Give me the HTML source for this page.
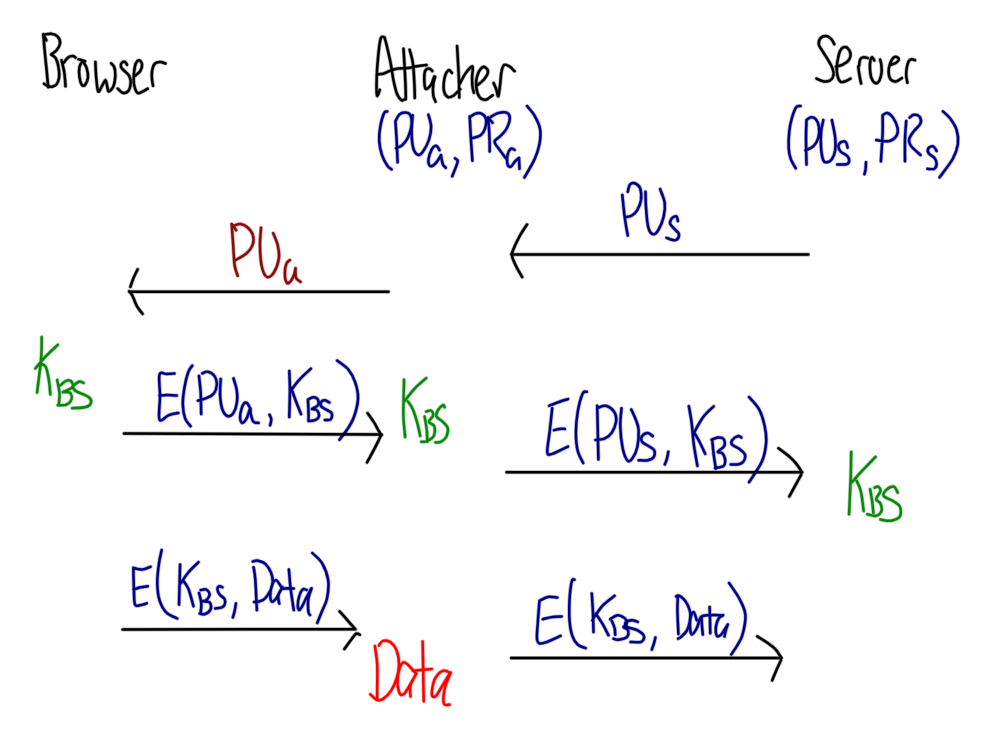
<!DOCTYPE html>
<html><head><meta charset="utf-8"><style>
html,body{margin:0;padding:0;background:#fff;width:988px;height:740px;overflow:hidden;font-family:"Liberation Sans",sans-serif}
svg{display:block}
</style></head><body>
<svg width="988" height="740" viewBox="0 0 988 740">
<rect width="988" height="740" fill="#fff"/>
<g fill="none" stroke-linecap="round" stroke-linejoin="round">
<path stroke="#000000" stroke-width="4.0" stroke-opacity="0.35" d="M43.3 34.3C43.5 36.7 44.0 43.3 44.5 48.9C45.0 54.5 45.7 61.5 46.4 67.8C47.0 74.2 47.9 84.0 48.2 87.2M44.0 83.7L48.7 86.8M43.3 34.3L46.4 40.4M44.0 34.7C45.2 34.6 48.8 33.5 51.1 33.8C53.4 34.1 56.2 35.0 57.7 36.6C59.2 38.2 60.2 41.0 60.1 43.2C59.9 45.5 58.3 48.0 56.8 49.9C55.3 51.8 52.0 53.8 51.1 54.6M51.1 54.6C51.9 55.2 54.5 56.2 55.8 58.4C57.1 60.6 58.1 64.7 58.6 67.8C59.2 71.0 59.4 74.6 59.1 77.3C58.8 80.0 57.9 82.3 56.8 83.9C55.6 85.5 53.5 86.4 52.0 86.8C50.5 87.1 48.5 86.1 47.8 86.0M61.5 60.3C62.0 62.3 63.7 68.2 64.3 72.6C65.0 76.9 65.3 84.0 65.5 86.3M63.4 63.1C64.2 62.2 66.5 58.6 68.1 57.4C69.7 56.2 71.6 56.0 72.8 56.0C74.1 56.0 75.2 57.4 75.7 57.6M78.5 59.3L85.1 61.2M82.8 60.7C82.2 61.8 80.0 64.1 79.5 66.9C78.9 69.7 79.1 74.3 79.5 77.3C79.9 80.3 80.9 83.6 81.8 84.9C82.8 86.1 84.1 86.1 85.1 84.9C86.2 83.6 87.7 80.1 88.0 77.3C88.2 74.5 87.4 70.5 86.6 67.8C85.7 65.2 83.4 62.3 82.8 61.2"/>
<path stroke="#000000" stroke-width="2.5" d="M43.3 34.3C43.5 36.7 44.0 43.3 44.5 48.9C45.0 54.5 45.7 61.5 46.4 67.8C47.0 74.2 47.9 84.0 48.2 87.2M44.0 83.7L48.7 86.8M43.3 34.3L46.4 40.4M44.0 34.7C45.2 34.6 48.8 33.5 51.1 33.8C53.4 34.1 56.2 35.0 57.7 36.6C59.2 38.2 60.2 41.0 60.1 43.2C59.9 45.5 58.3 48.0 56.8 49.9C55.3 51.8 52.0 53.8 51.1 54.6M51.1 54.6C51.9 55.2 54.5 56.2 55.8 58.4C57.1 60.6 58.1 64.7 58.6 67.8C59.2 71.0 59.4 74.6 59.1 77.3C58.8 80.0 57.9 82.3 56.8 83.9C55.6 85.5 53.5 86.4 52.0 86.8C50.5 87.1 48.5 86.1 47.8 86.0M61.5 60.3C62.0 62.3 63.7 68.2 64.3 72.6C65.0 76.9 65.3 84.0 65.5 86.3M63.4 63.1C64.2 62.2 66.5 58.6 68.1 57.4C69.7 56.2 71.6 56.0 72.8 56.0C74.1 56.0 75.2 57.4 75.7 57.6M78.5 59.3L85.1 61.2M82.8 60.7C82.2 61.8 80.0 64.1 79.5 66.9C78.9 69.7 79.1 74.3 79.5 77.3C79.9 80.3 80.9 83.6 81.8 84.9C82.8 86.1 84.1 86.1 85.1 84.9C86.2 83.6 87.7 80.1 88.0 77.3C88.2 74.5 87.4 70.5 86.6 67.8C85.7 65.2 83.4 62.3 82.8 61.2"/>
<path stroke="#000000" stroke-width="4.0" stroke-opacity="0.35" d="M95.4 61.9C95.5 64.5 95.7 72.4 96.2 77.3C96.7 82.2 97.2 90.1 98.2 91.5C99.3 92.8 101.1 87.3 102.3 85.4C103.5 83.5 104.7 80.0 105.5 80.1C106.4 80.3 106.6 84.3 107.2 86.2C107.7 88.1 107.7 91.6 108.8 91.5C109.9 91.4 112.6 88.6 113.6 85.8C114.7 83.0 115.2 78.0 115.3 74.9C115.4 71.8 115.0 69.1 114.3 67.2C113.6 65.2 111.7 64.0 111.2 63.4M127.0 64.7C126.7 64.3 125.9 62.2 125.0 61.9C124.1 61.6 122.4 61.9 121.8 62.7C121.1 63.5 120.5 65.4 120.9 66.8C121.4 68.1 122.8 69.3 124.2 70.8C125.5 72.3 128.0 73.6 129.1 75.7C130.1 77.7 130.8 80.4 130.7 83.0C130.5 85.5 129.6 89.5 128.2 91.1C126.9 92.7 124.3 93.1 122.6 92.7C120.8 92.3 118.5 89.3 117.7 88.6M135.1 75.7C136.0 74.9 139.3 72.7 140.4 70.8C141.6 68.9 142.2 66.1 142.0 64.3C141.8 62.6 140.3 60.3 139.2 60.3C138.1 60.3 136.4 62.0 135.5 64.3C134.7 66.6 134.2 70.8 133.9 74.1C133.6 77.3 133.4 80.7 133.9 83.8C134.5 86.9 135.8 91.4 137.2 92.7C138.5 94.1 140.3 92.6 142.0 91.9C143.8 91.2 146.8 89.2 147.7 88.6M153.0 85.8C152.8 84.3 151.8 79.4 151.8 76.5C151.7 73.6 152.0 70.5 152.6 68.4C153.1 66.2 153.8 64.6 155.0 63.5C156.2 62.4 158.1 61.9 159.9 61.9C161.6 61.9 164.6 63.2 165.5 63.5"/>
<path stroke="#000000" stroke-width="2.5" d="M95.4 61.9C95.5 64.5 95.7 72.4 96.2 77.3C96.7 82.2 97.2 90.1 98.2 91.5C99.3 92.8 101.1 87.3 102.3 85.4C103.5 83.5 104.7 80.0 105.5 80.1C106.4 80.3 106.6 84.3 107.2 86.2C107.7 88.1 107.7 91.6 108.8 91.5C109.9 91.4 112.6 88.6 113.6 85.8C114.7 83.0 115.2 78.0 115.3 74.9C115.4 71.8 115.0 69.1 114.3 67.2C113.6 65.2 111.7 64.0 111.2 63.4M127.0 64.7C126.7 64.3 125.9 62.2 125.0 61.9C124.1 61.6 122.4 61.9 121.8 62.7C121.1 63.5 120.5 65.4 120.9 66.8C121.4 68.1 122.8 69.3 124.2 70.8C125.5 72.3 128.0 73.6 129.1 75.7C130.1 77.7 130.8 80.4 130.7 83.0C130.5 85.5 129.6 89.5 128.2 91.1C126.9 92.7 124.3 93.1 122.6 92.7C120.8 92.3 118.5 89.3 117.7 88.6M135.1 75.7C136.0 74.9 139.3 72.7 140.4 70.8C141.6 68.9 142.2 66.1 142.0 64.3C141.8 62.6 140.3 60.3 139.2 60.3C138.1 60.3 136.4 62.0 135.5 64.3C134.7 66.6 134.2 70.8 133.9 74.1C133.6 77.3 133.4 80.7 133.9 83.8C134.5 86.9 135.8 91.4 137.2 92.7C138.5 94.1 140.3 92.6 142.0 91.9C143.8 91.2 146.8 89.2 147.7 88.6M153.0 85.8C152.8 84.3 151.8 79.4 151.8 76.5C151.7 73.6 152.0 70.5 152.6 68.4C153.1 66.2 153.8 64.6 155.0 63.5C156.2 62.4 158.1 61.9 159.9 61.9C161.6 61.9 164.6 63.2 165.5 63.5"/>
<path stroke="#000000" stroke-width="4.0" stroke-opacity="0.35" d="M379.8 89.9C379.3 90.8 377.5 97.6 377.0 95.5C376.5 93.5 376.5 84.5 376.7 77.6C376.9 70.6 377.7 60.5 378.4 53.9C379.1 47.4 379.7 41.1 380.8 38.3C381.8 35.6 383.9 37.5 384.6 37.4M384.6 37.4C384.9 38.9 385.9 42.0 386.9 46.3C387.9 50.7 389.6 57.7 390.7 63.4C391.8 69.0 392.4 75.2 393.5 80.4C394.6 85.6 396.0 91.3 397.3 94.6C398.7 97.9 400.4 99.5 401.6 100.3C402.8 101.0 403.9 99.5 404.4 99.3M376.7 74.2C377.8 74.2 380.8 74.4 383.1 73.8C385.5 73.1 388.2 71.3 390.7 70.5C393.2 69.6 395.4 69.0 398.3 68.6C401.1 68.2 404.6 68.5 407.7 68.1C410.9 67.7 414.0 66.7 417.2 66.2C420.3 65.7 425.1 65.3 426.6 65.1M403.5 48.7C403.6 51.2 404.1 57.8 404.4 63.4C404.7 69.0 405.1 76.3 405.4 82.3C405.6 88.3 405.8 96.5 405.8 99.3M409.6 49.7C410.2 51.9 412.1 57.9 412.9 63.4C413.7 68.8 414.0 76.5 414.3 82.3C414.7 88.0 414.7 95.3 414.8 97.9M432.3 70.9C431.8 70.5 430.2 68.6 429.0 68.6C427.8 68.6 426.0 69.3 425.2 70.9C424.4 72.6 424.3 75.7 424.3 78.5C424.3 81.3 424.7 86.3 425.2 88.0C425.8 89.6 426.6 89.1 427.6 88.4C428.6 87.8 430.3 86.2 431.4 84.2C432.5 82.2 433.7 77.9 434.2 76.6M435.2 76.6C434.8 77.9 433.6 81.0 433.3 84.2C432.9 87.3 432.9 92.6 433.3 95.5C433.7 98.4 435.2 100.7 435.6 101.7"/>
<path stroke="#000000" stroke-width="2.5" d="M379.8 89.9C379.3 90.8 377.5 97.6 377.0 95.5C376.5 93.5 376.5 84.5 376.7 77.6C376.9 70.6 377.7 60.5 378.4 53.9C379.1 47.4 379.7 41.1 380.8 38.3C381.8 35.6 383.9 37.5 384.6 37.4M384.6 37.4C384.9 38.9 385.9 42.0 386.9 46.3C387.9 50.7 389.6 57.7 390.7 63.4C391.8 69.0 392.4 75.2 393.5 80.4C394.6 85.6 396.0 91.3 397.3 94.6C398.7 97.9 400.4 99.5 401.6 100.3C402.8 101.0 403.9 99.5 404.4 99.3M376.7 74.2C377.8 74.2 380.8 74.4 383.1 73.8C385.5 73.1 388.2 71.3 390.7 70.5C393.2 69.6 395.4 69.0 398.3 68.6C401.1 68.2 404.6 68.5 407.7 68.1C410.9 67.7 414.0 66.7 417.2 66.2C420.3 65.7 425.1 65.3 426.6 65.1M403.5 48.7C403.6 51.2 404.1 57.8 404.4 63.4C404.7 69.0 405.1 76.3 405.4 82.3C405.6 88.3 405.8 96.5 405.8 99.3M409.6 49.7C410.2 51.9 412.1 57.9 412.9 63.4C413.7 68.8 414.0 76.5 414.3 82.3C414.7 88.0 414.7 95.3 414.8 97.9M432.3 70.9C431.8 70.5 430.2 68.6 429.0 68.6C427.8 68.6 426.0 69.3 425.2 70.9C424.4 72.6 424.3 75.7 424.3 78.5C424.3 81.3 424.7 86.3 425.2 88.0C425.8 89.6 426.6 89.1 427.6 88.4C428.6 87.8 430.3 86.2 431.4 84.2C432.5 82.2 433.7 77.9 434.2 76.6M435.2 76.6C434.8 77.9 433.6 81.0 433.3 84.2C432.9 87.3 432.9 92.6 433.3 95.5C433.7 98.4 435.2 100.7 435.6 101.7"/>
<path stroke="#000000" stroke-width="4.0" stroke-opacity="0.35" d="M451.9 72.9C451.3 72.5 449.6 69.3 448.3 70.3C447.1 71.2 445.1 75.2 444.4 78.6C443.7 82.1 443.4 87.9 444.0 90.9C444.5 94.0 446.4 96.3 447.9 97.1C449.4 97.9 451.1 97.1 453.2 95.8C455.2 94.4 459.0 90.3 460.2 89.2M457.1 46.1C457.3 48.8 457.7 56.4 458.0 62.0C458.3 67.5 458.7 73.6 458.9 79.5C459.1 85.4 459.2 94.5 459.3 97.5M459.8 83.9C460.7 82.2 463.3 76.3 465.5 73.4C467.6 70.4 471.4 65.8 472.5 66.3C473.6 66.9 472.1 73.5 472.1 76.9C472.1 80.2 472.2 83.9 472.5 86.5C472.8 89.2 473.6 91.7 473.8 92.7M476.9 85.7C478.1 84.6 482.1 81.7 483.9 79.5C485.7 77.3 487.6 74.5 487.9 72.5C488.2 70.5 486.8 68.4 485.7 67.7C484.6 66.9 482.7 66.6 481.3 68.1C479.8 69.6 477.7 73.5 476.9 76.9C476.1 80.2 476.0 84.9 476.4 88.3C476.9 91.7 478.0 95.2 479.5 97.1C481.1 99.0 483.5 100.0 485.7 99.7C487.9 99.4 491.5 96.1 492.7 95.3M493.6 83.0C494.0 84.1 495.4 87.0 496.2 89.2C497.0 91.4 497.7 97.1 498.4 96.2C499.1 95.3 499.6 88.0 500.2 83.9C500.7 79.8 500.8 74.8 501.5 71.6C502.1 68.5 502.8 65.9 504.1 65.0C505.4 64.1 507.6 65.3 509.4 66.3C511.1 67.4 513.8 70.4 514.6 71.2"/>
<path stroke="#000000" stroke-width="2.5" d="M451.9 72.9C451.3 72.5 449.6 69.3 448.3 70.3C447.1 71.2 445.1 75.2 444.4 78.6C443.7 82.1 443.4 87.9 444.0 90.9C444.5 94.0 446.4 96.3 447.9 97.1C449.4 97.9 451.1 97.1 453.2 95.8C455.2 94.4 459.0 90.3 460.2 89.2M457.1 46.1C457.3 48.8 457.7 56.4 458.0 62.0C458.3 67.5 458.7 73.6 458.9 79.5C459.1 85.4 459.2 94.5 459.3 97.5M459.8 83.9C460.7 82.2 463.3 76.3 465.5 73.4C467.6 70.4 471.4 65.8 472.5 66.3C473.6 66.9 472.1 73.5 472.1 76.9C472.1 80.2 472.2 83.9 472.5 86.5C472.8 89.2 473.6 91.7 473.8 92.7M476.9 85.7C478.1 84.6 482.1 81.7 483.9 79.5C485.7 77.3 487.6 74.5 487.9 72.5C488.2 70.5 486.8 68.4 485.7 67.7C484.6 66.9 482.7 66.6 481.3 68.1C479.8 69.6 477.7 73.5 476.9 76.9C476.1 80.2 476.0 84.9 476.4 88.3C476.9 91.7 478.0 95.2 479.5 97.1C481.1 99.0 483.5 100.0 485.7 99.7C487.9 99.4 491.5 96.1 492.7 95.3M493.6 83.0C494.0 84.1 495.4 87.0 496.2 89.2C497.0 91.4 497.7 97.1 498.4 96.2C499.1 95.3 499.6 88.0 500.2 83.9C500.7 79.8 500.8 74.8 501.5 71.6C502.1 68.5 502.8 65.9 504.1 65.0C505.4 64.1 507.6 65.3 509.4 66.3C511.1 67.4 513.8 70.4 514.6 71.2"/>
<path stroke="#000085" stroke-width="4.0" stroke-opacity="0.35" d="M387.3 111.5C386.8 111.8 385.2 110.6 384.1 113.1C382.9 115.6 381.1 122.0 380.3 126.6C379.5 131.2 378.9 136.0 379.2 140.7C379.5 145.4 380.5 150.6 381.9 154.8C383.3 158.9 385.7 163.1 387.3 165.6C388.9 168.0 390.9 168.7 391.6 169.4M395.4 121.2C395.6 123.9 396.1 130.6 396.5 137.5C396.9 144.3 397.4 158.2 397.6 162.3M395.4 121.2C396.1 120.1 397.7 116.2 399.2 114.7C400.7 113.3 402.8 112.6 404.6 112.6C406.4 112.6 408.9 112.8 410.0 114.7C411.2 116.7 412.0 120.7 411.6 124.5C411.3 128.3 409.4 134.0 407.9 137.5C406.3 140.9 404.4 143.2 402.5 145.0C400.5 146.8 397.0 147.7 396.0 148.3M412.7 115.3C412.5 118.1 411.6 126.5 411.6 132.0C411.7 137.5 412.2 144.5 413.3 148.3C414.4 152.1 416.5 154.2 418.1 154.8C419.8 155.3 421.2 154.0 423.0 151.5C424.8 149.0 427.6 143.8 429.0 139.6C430.3 135.5 431.2 130.8 431.1 126.6C431.0 122.5 428.9 116.7 428.4 114.7"/>
<path stroke="#000085" stroke-width="2.5" d="M387.3 111.5C386.8 111.8 385.2 110.6 384.1 113.1C382.9 115.6 381.1 122.0 380.3 126.6C379.5 131.2 378.9 136.0 379.2 140.7C379.5 145.4 380.5 150.6 381.9 154.8C383.3 158.9 385.7 163.1 387.3 165.6C388.9 168.0 390.9 168.7 391.6 169.4M395.4 121.2C395.6 123.9 396.1 130.6 396.5 137.5C396.9 144.3 397.4 158.2 397.6 162.3M395.4 121.2C396.1 120.1 397.7 116.2 399.2 114.7C400.7 113.3 402.8 112.6 404.6 112.6C406.4 112.6 408.9 112.8 410.0 114.7C411.2 116.7 412.0 120.7 411.6 124.5C411.3 128.3 409.4 134.0 407.9 137.5C406.3 140.9 404.4 143.2 402.5 145.0C400.5 146.8 397.0 147.7 396.0 148.3M412.7 115.3C412.5 118.1 411.6 126.5 411.6 132.0C411.7 137.5 412.2 144.5 413.3 148.3C414.4 152.1 416.5 154.2 418.1 154.8C419.8 155.3 421.2 154.0 423.0 151.5C424.8 149.0 427.6 143.8 429.0 139.6C430.3 135.5 431.2 130.8 431.1 126.6C431.0 122.5 428.9 116.7 428.4 114.7"/>
<path stroke="#000085" stroke-width="4.0" stroke-opacity="0.35" d="M469.7 116.4C469.9 119.9 470.4 130.1 470.8 137.5C471.3 144.8 472.2 156.8 472.4 160.7M470.3 116.9C471.1 116.4 473.3 114.2 475.1 113.7C477.0 113.1 479.8 112.8 481.6 113.7C483.4 114.6 485.4 116.5 486.0 119.1C486.5 121.6 485.8 126.1 484.9 128.8C484.0 131.5 482.5 133.8 480.6 135.3C478.6 136.8 474.2 137.5 473.0 138.0M488.1 117.4C488.3 119.9 488.9 126.4 489.2 132.0C489.5 137.7 489.7 148.3 489.7 151.5M488.1 117.4L492.5 122.8M490.8 116.9C492.0 116.3 495.2 113.8 497.9 113.1C500.5 112.4 504.5 111.8 506.5 112.6C508.5 113.4 509.8 115.3 509.8 118.0C509.8 120.7 508.1 125.7 506.5 128.8C504.9 131.9 502.0 134.2 500.0 136.4C498.0 138.5 494.6 139.4 494.6 141.8C494.6 144.1 498.0 147.5 500.0 150.4C502.0 153.3 505.4 157.6 506.5 159.1M514.6 149.9C514.0 149.7 512.0 148.0 510.8 148.8C509.7 149.6 508.1 152.1 507.6 154.8C507.1 157.4 507.1 162.5 507.6 164.5C508.1 166.5 509.6 167.2 510.8 166.7C512.1 166.1 513.8 162.7 515.2 161.2C516.5 159.8 518.3 158.5 519.0 158.0M519.0 158.0L519.5 168.8M527.1 106.1C528.3 107.7 532.5 112.0 534.6 115.8C536.8 119.6 539.2 124.1 540.0 128.8C540.9 133.5 540.4 138.9 539.5 143.9C538.6 149.0 537.2 153.5 534.6 159.1C532.1 164.7 526.1 174.4 524.4 177.5"/>
<path stroke="#000085" stroke-width="2.5" d="M469.7 116.4C469.9 119.9 470.4 130.1 470.8 137.5C471.3 144.8 472.2 156.8 472.4 160.7M470.3 116.9C471.1 116.4 473.3 114.2 475.1 113.7C477.0 113.1 479.8 112.8 481.6 113.7C483.4 114.6 485.4 116.5 486.0 119.1C486.5 121.6 485.8 126.1 484.9 128.8C484.0 131.5 482.5 133.8 480.6 135.3C478.6 136.8 474.2 137.5 473.0 138.0M488.1 117.4C488.3 119.9 488.9 126.4 489.2 132.0C489.5 137.7 489.7 148.3 489.7 151.5M488.1 117.4L492.5 122.8M490.8 116.9C492.0 116.3 495.2 113.8 497.9 113.1C500.5 112.4 504.5 111.8 506.5 112.6C508.5 113.4 509.8 115.3 509.8 118.0C509.8 120.7 508.1 125.7 506.5 128.8C504.9 131.9 502.0 134.2 500.0 136.4C498.0 138.5 494.6 139.4 494.6 141.8C494.6 144.1 498.0 147.5 500.0 150.4C502.0 153.3 505.4 157.6 506.5 159.1M514.6 149.9C514.0 149.7 512.0 148.0 510.8 148.8C509.7 149.6 508.1 152.1 507.6 154.8C507.1 157.4 507.1 162.5 507.6 164.5C508.1 166.5 509.6 167.2 510.8 166.7C512.1 166.1 513.8 162.7 515.2 161.2C516.5 159.8 518.3 158.5 519.0 158.0M519.0 158.0L519.5 168.8M527.1 106.1C528.3 107.7 532.5 112.0 534.6 115.8C536.8 119.6 539.2 124.1 540.0 128.8C540.9 133.5 540.4 138.9 539.5 143.9C538.6 149.0 537.2 153.5 534.6 159.1C532.1 164.7 526.1 174.4 524.4 177.5"/>
<path stroke="#000000" stroke-width="4.0" stroke-opacity="0.35" d="M834.3 44.2C833.8 43.3 832.4 40.3 831.1 38.9C829.7 37.6 828.0 36.2 826.2 36.1C824.5 35.9 821.8 36.7 820.5 38.1C819.3 39.5 818.5 42.3 818.9 44.6C819.3 46.9 821.4 49.2 823.0 51.9C824.6 54.6 827.0 58.0 828.6 60.8C830.3 63.6 831.9 66.5 832.7 68.9C833.5 71.4 833.9 73.5 833.5 75.4C833.1 77.3 831.9 79.3 830.3 80.3C828.6 81.3 826.1 81.8 823.8 81.5C821.5 81.2 817.7 79.1 816.5 78.6M835.9 66.5C837.0 66.2 840.3 65.9 842.4 64.9C844.6 63.8 847.6 61.9 848.9 60.0C850.3 58.1 850.8 55.5 850.5 53.5C850.3 51.5 848.5 48.9 847.3 47.8C846.1 46.8 844.5 46.9 843.2 47.4C842.0 48.0 840.9 49.3 840.0 51.1C839.1 52.9 838.5 55.7 838.0 58.4C837.4 61.1 836.8 64.3 836.8 67.3C836.7 70.3 836.9 73.8 837.6 76.2C838.2 78.6 839.5 81.1 840.8 81.9C842.2 82.7 844.1 81.6 845.7 81.1C847.3 80.5 849.7 79.1 850.5 78.6M858.2 66.5C858.4 68.0 859.0 72.6 859.5 75.4C859.9 78.2 860.8 82.2 861.1 83.5M859.1 65.7C859.3 64.6 859.5 60.6 860.3 59.2C861.0 57.8 862.3 57.4 863.5 57.2C864.7 57.0 866.9 57.8 867.6 58.0"/>
<path stroke="#000000" stroke-width="2.5" d="M834.3 44.2C833.8 43.3 832.4 40.3 831.1 38.9C829.7 37.6 828.0 36.2 826.2 36.1C824.5 35.9 821.8 36.7 820.5 38.1C819.3 39.5 818.5 42.3 818.9 44.6C819.3 46.9 821.4 49.2 823.0 51.9C824.6 54.6 827.0 58.0 828.6 60.8C830.3 63.6 831.9 66.5 832.7 68.9C833.5 71.4 833.9 73.5 833.5 75.4C833.1 77.3 831.9 79.3 830.3 80.3C828.6 81.3 826.1 81.8 823.8 81.5C821.5 81.2 817.7 79.1 816.5 78.6M835.9 66.5C837.0 66.2 840.3 65.9 842.4 64.9C844.6 63.8 847.6 61.9 848.9 60.0C850.3 58.1 850.8 55.5 850.5 53.5C850.3 51.5 848.5 48.9 847.3 47.8C846.1 46.8 844.5 46.9 843.2 47.4C842.0 48.0 840.9 49.3 840.0 51.1C839.1 52.9 838.5 55.7 838.0 58.4C837.4 61.1 836.8 64.3 836.8 67.3C836.7 70.3 836.9 73.8 837.6 76.2C838.2 78.6 839.5 81.1 840.8 81.9C842.2 82.7 844.1 81.6 845.7 81.1C847.3 80.5 849.7 79.1 850.5 78.6M858.2 66.5C858.4 68.0 859.0 72.6 859.5 75.4C859.9 78.2 860.8 82.2 861.1 83.5M859.1 65.7C859.3 64.6 859.5 60.6 860.3 59.2C861.0 57.8 862.3 57.4 863.5 57.2C864.7 57.0 866.9 57.8 867.6 58.0"/>
<path stroke="#000000" stroke-width="4.0" stroke-opacity="0.35" d="M874.3 60.5C873.9 59.9 872.8 57.1 872.2 57.2C871.5 57.2 870.7 58.8 870.3 60.8C870.0 62.8 869.8 66.4 870.0 69.3C870.2 72.3 870.6 76.1 871.6 78.4C872.5 80.8 874.5 83.0 875.8 83.3C877.1 83.6 878.5 82.1 879.5 80.3C880.4 78.4 881.3 75.0 881.6 72.4C881.9 69.7 881.5 66.6 881.3 64.5C881.0 62.3 880.3 60.4 880.1 59.6M889.8 65.1C890.7 64.8 893.7 64.1 895.3 63.2C896.8 62.3 898.7 60.7 898.9 59.6C899.1 58.5 897.5 57.1 896.5 56.9C895.5 56.7 893.9 57.1 892.8 58.4C891.7 59.6 890.5 62.2 889.8 64.5C889.1 66.7 888.5 69.3 888.6 71.7C888.7 74.2 889.2 77.4 890.4 79.0C891.6 80.7 893.9 81.6 895.9 81.5C897.8 81.3 900.9 78.7 901.9 78.1M907.4 82.7C907.2 81.5 906.3 77.9 906.2 75.4C906.1 72.9 906.4 69.8 906.8 67.5C907.2 65.2 907.8 62.8 908.6 61.4C909.4 60.0 910.6 59.5 911.7 59.3C912.7 59.1 914.5 60.0 915.0 60.2"/>
<path stroke="#000000" stroke-width="2.5" d="M874.3 60.5C873.9 59.9 872.8 57.1 872.2 57.2C871.5 57.2 870.7 58.8 870.3 60.8C870.0 62.8 869.8 66.4 870.0 69.3C870.2 72.3 870.6 76.1 871.6 78.4C872.5 80.8 874.5 83.0 875.8 83.3C877.1 83.6 878.5 82.1 879.5 80.3C880.4 78.4 881.3 75.0 881.6 72.4C881.9 69.7 881.5 66.6 881.3 64.5C881.0 62.3 880.3 60.4 880.1 59.6M889.8 65.1C890.7 64.8 893.7 64.1 895.3 63.2C896.8 62.3 898.7 60.7 898.9 59.6C899.1 58.5 897.5 57.1 896.5 56.9C895.5 56.7 893.9 57.1 892.8 58.4C891.7 59.6 890.5 62.2 889.8 64.5C889.1 66.7 888.5 69.3 888.6 71.7C888.7 74.2 889.2 77.4 890.4 79.0C891.6 80.7 893.9 81.6 895.9 81.5C897.8 81.3 900.9 78.7 901.9 78.1M907.4 82.7C907.2 81.5 906.3 77.9 906.2 75.4C906.1 72.9 906.4 69.8 906.8 67.5C907.2 65.2 907.8 62.8 908.6 61.4C909.4 60.0 910.6 59.5 911.7 59.3C912.7 59.1 914.5 60.0 915.0 60.2"/>
<path stroke="#000085" stroke-width="4.0" stroke-opacity="0.35" d="M800.6 106.1C799.8 106.3 797.7 105.2 796.2 107.2C794.8 109.1 793.1 113.8 791.9 118.0C790.7 122.1 789.7 127.0 789.2 132.0C788.7 137.1 788.4 143.8 788.7 148.3C788.9 152.8 789.6 155.8 790.8 159.1C792.0 162.4 794.9 166.7 795.7 168.3M806.5 120.1C806.4 123.0 806.0 130.1 806.0 137.5C806.0 144.8 806.4 160.0 806.5 164.5M806.5 120.1C807.1 119.7 808.8 117.6 810.3 117.4C811.8 117.3 814.3 117.5 815.7 119.1C817.1 120.6 818.5 123.6 818.9 126.6C819.4 129.7 819.3 134.2 818.4 137.5C817.5 140.7 815.7 143.9 813.5 146.1C811.4 148.3 806.8 149.7 805.4 150.4M823.3 120.1C822.9 122.1 821.5 127.4 821.1 132.0C820.7 136.7 820.7 143.6 821.1 148.3C821.5 153.0 822.4 157.8 823.3 160.2C824.2 162.5 825.1 162.5 826.5 162.3C828.0 162.2 830.5 161.1 831.9 159.1C833.4 157.1 834.6 154.0 835.2 150.4C835.7 146.8 835.7 142.5 835.2 137.5C834.6 132.4 832.5 123.0 831.9 120.1M847.6 147.7C847.3 146.8 847.0 143.3 846.0 142.3C845.0 141.3 842.9 141.1 841.7 141.8C840.4 142.4 838.6 144.5 838.4 146.1C838.2 147.7 839.1 149.9 840.6 151.5C842.0 153.1 845.6 154.4 847.1 155.8C848.5 157.3 849.2 158.8 849.2 160.2C849.2 161.5 849.1 163.2 847.1 164.0C845.1 164.7 839.0 164.4 837.3 164.5M866.0 162.3C865.9 163.6 865.7 167.9 865.5 169.9C865.2 171.9 864.6 173.5 864.4 174.2"/>
<path stroke="#000085" stroke-width="2.5" d="M800.6 106.1C799.8 106.3 797.7 105.2 796.2 107.2C794.8 109.1 793.1 113.8 791.9 118.0C790.7 122.1 789.7 127.0 789.2 132.0C788.7 137.1 788.4 143.8 788.7 148.3C788.9 152.8 789.6 155.8 790.8 159.1C792.0 162.4 794.9 166.7 795.7 168.3M806.5 120.1C806.4 123.0 806.0 130.1 806.0 137.5C806.0 144.8 806.4 160.0 806.5 164.5M806.5 120.1C807.1 119.7 808.8 117.6 810.3 117.4C811.8 117.3 814.3 117.5 815.7 119.1C817.1 120.6 818.5 123.6 818.9 126.6C819.4 129.7 819.3 134.2 818.4 137.5C817.5 140.7 815.7 143.9 813.5 146.1C811.4 148.3 806.8 149.7 805.4 150.4M823.3 120.1C822.9 122.1 821.5 127.4 821.1 132.0C820.7 136.7 820.7 143.6 821.1 148.3C821.5 153.0 822.4 157.8 823.3 160.2C824.2 162.5 825.1 162.5 826.5 162.3C828.0 162.2 830.5 161.1 831.9 159.1C833.4 157.1 834.6 154.0 835.2 150.4C835.7 146.8 835.7 142.5 835.2 137.5C834.6 132.4 832.5 123.0 831.9 120.1M847.6 147.7C847.3 146.8 847.0 143.3 846.0 142.3C845.0 141.3 842.9 141.1 841.7 141.8C840.4 142.4 838.6 144.5 838.4 146.1C838.2 147.7 839.1 149.9 840.6 151.5C842.0 153.1 845.6 154.4 847.1 155.8C848.5 157.3 849.2 158.8 849.2 160.2C849.2 161.5 849.1 163.2 847.1 164.0C845.1 164.7 839.0 164.4 837.3 164.5M866.0 162.3C865.9 163.6 865.7 167.9 865.5 169.9C865.2 171.9 864.6 173.5 864.4 174.2"/>
<path stroke="#000085" stroke-width="4.0" stroke-opacity="0.35" d="M882.6 115.3C882.6 118.4 882.9 126.1 882.6 133.7C882.3 141.4 881.2 156.7 880.9 161.3M882.6 115.3C883.4 115.0 885.5 112.7 887.2 113.0C889.0 113.4 891.3 115.1 893.0 117.6C894.7 120.1 897.0 124.9 897.6 128.0C898.1 131.0 898.0 133.8 896.4 136.0C894.9 138.2 891.7 140.5 888.4 141.2C885.0 141.9 878.3 140.2 876.3 140.0M906.2 121.1C906.0 124.1 905.2 132.8 905.0 139.5C904.8 146.2 905.0 157.7 905.0 161.3M909.6 117.6C910.3 117.2 912.0 115.0 913.7 114.8C915.3 114.6 918.2 115.1 919.4 116.5C920.5 117.9 921.5 120.9 920.5 123.4C919.6 125.9 915.6 128.7 913.7 131.4C911.7 134.1 909.4 137.0 909.1 139.5C908.7 142.0 909.4 143.8 911.4 146.4C913.3 148.9 919.0 153.5 920.5 155.0M936.6 150.9C936.1 150.2 934.5 146.8 933.2 146.4C931.8 145.9 929.4 146.9 928.6 148.1C927.8 149.2 927.6 151.6 928.6 153.2C929.5 154.9 933.0 156.1 934.3 157.8C935.7 159.6 936.6 161.8 936.6 163.6C936.6 165.4 935.9 167.9 934.3 168.8C932.8 169.6 928.6 168.8 927.4 168.8M942.9 111.3C944.2 112.6 948.1 115.6 950.4 118.8C952.7 121.9 955.5 126.1 956.7 130.3C958.0 134.5 958.5 139.3 957.9 144.1C957.2 148.8 955.8 153.4 952.7 159.0C949.6 164.5 941.7 174.3 939.5 177.4"/>
<path stroke="#000085" stroke-width="2.5" d="M882.6 115.3C882.6 118.4 882.9 126.1 882.6 133.7C882.3 141.4 881.2 156.7 880.9 161.3M882.6 115.3C883.4 115.0 885.5 112.7 887.2 113.0C889.0 113.4 891.3 115.1 893.0 117.6C894.7 120.1 897.0 124.9 897.6 128.0C898.1 131.0 898.0 133.8 896.4 136.0C894.9 138.2 891.7 140.5 888.4 141.2C885.0 141.9 878.3 140.2 876.3 140.0M906.2 121.1C906.0 124.1 905.2 132.8 905.0 139.5C904.8 146.2 905.0 157.7 905.0 161.3M909.6 117.6C910.3 117.2 912.0 115.0 913.7 114.8C915.3 114.6 918.2 115.1 919.4 116.5C920.5 117.9 921.5 120.9 920.5 123.4C919.6 125.9 915.6 128.7 913.7 131.4C911.7 134.1 909.4 137.0 909.1 139.5C908.7 142.0 909.4 143.8 911.4 146.4C913.3 148.9 919.0 153.5 920.5 155.0M936.6 150.9C936.1 150.2 934.5 146.8 933.2 146.4C931.8 145.9 929.4 146.9 928.6 148.1C927.8 149.2 927.6 151.6 928.6 153.2C929.5 154.9 933.0 156.1 934.3 157.8C935.7 159.6 936.6 161.8 936.6 163.6C936.6 165.4 935.9 167.9 934.3 168.8C932.8 169.6 928.6 168.8 927.4 168.8M942.9 111.3C944.2 112.6 948.1 115.6 950.4 118.8C952.7 121.9 955.5 126.1 956.7 130.3C958.0 134.5 958.5 139.3 957.9 144.1C957.2 148.8 955.8 153.4 952.7 159.0C949.6 164.5 941.7 174.3 939.5 177.4"/>
<path stroke="#000085" stroke-width="4.0" stroke-opacity="0.35" d="M622.3 195.0C622.7 198.6 623.7 209.7 624.6 216.4C625.5 223.2 627.2 232.4 627.8 235.6M627.8 191.8C628.1 190.6 628.9 186.0 630.0 184.6C631.2 183.1 632.9 182.6 634.6 183.2C636.3 183.8 639.0 185.4 640.1 188.2C641.1 191.0 641.4 196.4 641.0 200.0C640.5 203.7 638.8 207.5 637.3 210.1C635.8 212.6 633.9 214.3 631.9 215.5C629.8 216.7 626.2 217.0 625.0 217.3M645.5 191.8C645.6 194.4 645.5 201.4 646.0 207.3C646.4 213.2 647.1 222.9 648.3 227.4C649.4 231.8 651.1 233.7 652.8 234.2C654.5 234.7 656.5 233.1 658.3 230.1C660.1 227.1 662.7 221.0 663.7 216.4C664.8 211.9 665.3 207.3 664.7 202.8C664.0 198.2 660.9 191.4 660.1 189.1M677.9 221.0C677.6 220.2 677.5 216.9 676.5 216.4C675.5 216.0 673.0 217.0 671.9 218.3C670.9 219.5 669.7 221.9 670.1 223.7C670.6 225.5 673.2 227.5 674.7 229.2C676.1 230.9 678.3 232.1 678.8 233.7C679.2 235.4 678.4 238.1 677.4 239.2C676.4 240.3 674.7 240.3 672.9 240.1C671.0 239.9 667.5 238.2 666.5 237.8"/>
<path stroke="#000085" stroke-width="2.5" d="M622.3 195.0C622.7 198.6 623.7 209.7 624.6 216.4C625.5 223.2 627.2 232.4 627.8 235.6M627.8 191.8C628.1 190.6 628.9 186.0 630.0 184.6C631.2 183.1 632.9 182.6 634.6 183.2C636.3 183.8 639.0 185.4 640.1 188.2C641.1 191.0 641.4 196.4 641.0 200.0C640.5 203.7 638.8 207.5 637.3 210.1C635.8 212.6 633.9 214.3 631.9 215.5C629.8 216.7 626.2 217.0 625.0 217.3M645.5 191.8C645.6 194.4 645.5 201.4 646.0 207.3C646.4 213.2 647.1 222.9 648.3 227.4C649.4 231.8 651.1 233.7 652.8 234.2C654.5 234.7 656.5 233.1 658.3 230.1C660.1 227.1 662.7 221.0 663.7 216.4C664.8 211.9 665.3 207.3 664.7 202.8C664.0 198.2 660.9 191.4 660.1 189.1M677.9 221.0C677.6 220.2 677.5 216.9 676.5 216.4C675.5 216.0 673.0 217.0 671.9 218.3C670.9 219.5 669.7 221.9 670.1 223.7C670.6 225.5 673.2 227.5 674.7 229.2C676.1 230.9 678.3 232.1 678.8 233.7C679.2 235.4 678.4 238.1 677.4 239.2C676.4 240.3 674.7 240.3 672.9 240.1C671.0 239.9 667.5 238.2 666.5 237.8"/>
<path stroke="#880a0a" stroke-width="4.0" stroke-opacity="0.35" d="M231.7 224.1C231.9 227.7 232.7 238.5 233.2 245.4C233.7 252.3 233.9 260.6 234.7 265.7C235.5 270.7 237.2 274.1 237.7 275.8M231.7 224.1L236.2 230.2M234.2 225.6C235.2 225.4 238.1 223.9 240.3 224.1C242.5 224.4 245.3 225.3 247.4 227.2C249.5 229.0 252.1 232.2 252.9 235.3C253.8 238.3 253.5 242.4 252.4 245.4C251.3 248.4 249.3 251.0 246.4 253.5C243.4 256.0 236.6 259.4 234.7 260.6M261.0 227.7C260.9 230.6 259.9 239.1 260.0 245.4C260.1 251.7 260.5 260.4 261.6 265.7C262.7 270.9 264.6 275.6 266.6 276.8C268.6 278.0 271.7 275.8 273.7 272.8C275.7 269.7 278.1 263.1 278.8 258.6C279.5 254.0 278.7 249.6 277.8 245.4C276.8 241.2 274.0 235.3 273.2 233.2M289.9 260.1C289.3 260.7 287.2 261.4 286.4 263.6C285.5 265.9 284.8 270.6 284.9 273.8C284.9 277.0 285.9 281.7 286.9 282.9C287.9 284.1 289.8 282.2 290.9 280.9C292.1 279.5 293.2 276.9 294.0 274.8C294.7 272.7 295.3 269.3 295.5 268.2M295.5 268.2C295.6 269.8 295.2 275.6 296.0 277.8C296.9 280.1 299.8 281.2 300.6 281.9"/>
<path stroke="#880a0a" stroke-width="2.5" d="M231.7 224.1C231.9 227.7 232.7 238.5 233.2 245.4C233.7 252.3 233.9 260.6 234.7 265.7C235.5 270.7 237.2 274.1 237.7 275.8M231.7 224.1L236.2 230.2M234.2 225.6C235.2 225.4 238.1 223.9 240.3 224.1C242.5 224.4 245.3 225.3 247.4 227.2C249.5 229.0 252.1 232.2 252.9 235.3C253.8 238.3 253.5 242.4 252.4 245.4C251.3 248.4 249.3 251.0 246.4 253.5C243.4 256.0 236.6 259.4 234.7 260.6M261.0 227.7C260.9 230.6 259.9 239.1 260.0 245.4C260.1 251.7 260.5 260.4 261.6 265.7C262.7 270.9 264.6 275.6 266.6 276.8C268.6 278.0 271.7 275.8 273.7 272.8C275.7 269.7 278.1 263.1 278.8 258.6C279.5 254.0 278.7 249.6 277.8 245.4C276.8 241.2 274.0 235.3 273.2 233.2M289.9 260.1C289.3 260.7 287.2 261.4 286.4 263.6C285.5 265.9 284.8 270.6 284.9 273.8C284.9 277.0 285.9 281.7 286.9 282.9C287.9 284.1 289.8 282.2 290.9 280.9C292.1 279.5 293.2 276.9 294.0 274.8C294.7 272.7 295.3 269.3 295.5 268.2M295.5 268.2C295.6 269.8 295.2 275.6 296.0 277.8C296.9 280.1 299.8 281.2 300.6 281.9"/>
<path stroke="#0a870a" stroke-width="4.0" stroke-opacity="0.35" d="M41.7 336.9C41.6 340.5 41.9 349.4 41.1 358.7C40.3 368.0 37.7 387.0 37.1 392.6M57.8 344.9C55.7 346.9 49.4 352.5 45.7 356.4C42.0 360.4 37.1 366.5 35.3 368.5M39.9 363.3C40.9 363.9 44.2 363.7 45.7 366.8C47.2 369.8 48.4 377.1 49.1 381.7C49.9 386.3 50.1 392.3 50.3 394.4M57.2 380.0C57.6 382.2 59.2 389.3 59.5 393.2C59.8 397.1 59.0 401.8 58.9 403.6M60.6 385.2C61.6 384.4 64.6 381.1 66.4 380.6C68.2 380.0 70.6 380.6 71.6 381.7C72.5 382.9 73.6 385.7 72.1 387.5C70.7 389.2 64.5 391.3 62.9 392.1M62.9 392.1C64.1 392.2 68.4 391.5 69.8 392.6C71.3 393.8 72.1 397.0 71.6 399.0C71.0 401.0 68.7 403.7 66.4 404.7C64.1 405.8 59.2 405.2 57.8 405.3M83.6 382.9C82.9 382.7 80.7 381.1 79.0 381.7C77.3 382.3 73.9 384.8 73.3 386.3C72.7 387.9 73.1 389.2 75.6 390.9C78.1 392.6 85.6 394.8 88.2 396.7C90.8 398.6 91.5 400.7 91.1 402.4C90.7 404.1 89.1 406.1 85.9 407.0C82.8 408.0 74.4 408.0 72.1 408.2"/>
<path stroke="#0a870a" stroke-width="2.5" d="M41.7 336.9C41.6 340.5 41.9 349.4 41.1 358.7C40.3 368.0 37.7 387.0 37.1 392.6M57.8 344.9C55.7 346.9 49.4 352.5 45.7 356.4C42.0 360.4 37.1 366.5 35.3 368.5M39.9 363.3C40.9 363.9 44.2 363.7 45.7 366.8C47.2 369.8 48.4 377.1 49.1 381.7C49.9 386.3 50.1 392.3 50.3 394.4M57.2 380.0C57.6 382.2 59.2 389.3 59.5 393.2C59.8 397.1 59.0 401.8 58.9 403.6M60.6 385.2C61.6 384.4 64.6 381.1 66.4 380.6C68.2 380.0 70.6 380.6 71.6 381.7C72.5 382.9 73.6 385.7 72.1 387.5C70.7 389.2 64.5 391.3 62.9 392.1M62.9 392.1C64.1 392.2 68.4 391.5 69.8 392.6C71.3 393.8 72.1 397.0 71.6 399.0C71.0 401.0 68.7 403.7 66.4 404.7C64.1 405.8 59.2 405.2 57.8 405.3M83.6 382.9C82.9 382.7 80.7 381.1 79.0 381.7C77.3 382.3 73.9 384.8 73.3 386.3C72.7 387.9 73.1 389.2 75.6 390.9C78.1 392.6 85.6 394.8 88.2 396.7C90.8 398.6 91.5 400.7 91.1 402.4C90.7 404.1 89.1 406.1 85.9 407.0C82.8 408.0 74.4 408.0 72.1 408.2"/>
<path stroke="#000085" stroke-width="4.0" stroke-opacity="0.35" d="M174.5 373.4C173.2 373.4 169.2 373.7 166.7 373.9C164.2 374.1 160.6 370.8 159.5 374.5C158.4 378.2 160.0 388.7 160.0 396.2C160.0 403.7 158.0 416.4 159.5 419.6C160.9 422.7 165.8 416.2 168.9 415.1C172.1 414.0 176.8 413.2 178.4 412.9M159.5 395.6C160.9 395.5 164.9 395.1 167.8 395.1C170.7 395.1 175.2 395.5 176.7 395.6M192.3 365.6C191.7 366.6 189.7 368.1 188.4 371.7C187.1 375.3 185.4 381.9 184.5 387.3C183.6 392.6 182.8 398.8 182.8 404.0C182.9 409.2 183.8 414.7 185.1 418.4C186.4 422.2 189.7 424.9 190.6 426.2M199.0 376.1C199.3 378.9 200.3 386.5 200.7 392.8C201.0 399.1 201.1 410.5 201.2 414.0M202.3 373.4C203.3 373.1 205.9 371.2 207.9 371.7C209.9 372.1 213.1 373.9 214.6 376.1C216.1 378.4 217.0 382.1 216.8 385.0C216.6 388.0 215.3 391.7 213.5 393.9C211.6 396.2 208.3 397.3 205.7 398.4C203.1 399.5 199.2 400.3 197.9 400.6M220.7 378.9C220.6 381.6 219.9 390.0 220.1 395.1C220.4 400.2 221.1 406.0 222.4 409.5C223.7 413.1 226.1 415.7 227.9 416.2C229.8 416.8 232.0 415.1 233.5 412.9C235.0 410.6 236.3 406.6 236.8 402.9C237.4 399.1 237.4 394.7 236.8 390.6C236.3 386.5 234.1 380.4 233.5 378.4M250.2 408.4C249.7 407.6 248.4 404.2 247.4 403.4C246.4 402.6 245.1 402.4 244.1 403.4C243.1 404.4 241.9 407.0 241.3 409.5C240.6 412.0 240.0 416.2 240.2 418.4C240.4 420.7 241.3 423.0 242.4 422.9C243.5 422.8 245.6 420.3 246.9 417.9C248.2 415.5 249.6 409.1 250.2 408.4C250.9 407.8 250.2 411.8 250.8 414.0C251.3 416.2 252.2 420.3 253.5 421.8C254.8 423.3 257.7 422.7 258.6 422.9"/>
<path stroke="#000085" stroke-width="2.5" d="M174.5 373.4C173.2 373.4 169.2 373.7 166.7 373.9C164.2 374.1 160.6 370.8 159.5 374.5C158.4 378.2 160.0 388.7 160.0 396.2C160.0 403.7 158.0 416.4 159.5 419.6C160.9 422.7 165.8 416.2 168.9 415.1C172.1 414.0 176.8 413.2 178.4 412.9M159.5 395.6C160.9 395.5 164.9 395.1 167.8 395.1C170.7 395.1 175.2 395.5 176.7 395.6M192.3 365.6C191.7 366.6 189.7 368.1 188.4 371.7C187.1 375.3 185.4 381.9 184.5 387.3C183.6 392.6 182.8 398.8 182.8 404.0C182.9 409.2 183.8 414.7 185.1 418.4C186.4 422.2 189.7 424.9 190.6 426.2M199.0 376.1C199.3 378.9 200.3 386.5 200.7 392.8C201.0 399.1 201.1 410.5 201.2 414.0M202.3 373.4C203.3 373.1 205.9 371.2 207.9 371.7C209.9 372.1 213.1 373.9 214.6 376.1C216.1 378.4 217.0 382.1 216.8 385.0C216.6 388.0 215.3 391.7 213.5 393.9C211.6 396.2 208.3 397.3 205.7 398.4C203.1 399.5 199.2 400.3 197.9 400.6M220.7 378.9C220.6 381.6 219.9 390.0 220.1 395.1C220.4 400.2 221.1 406.0 222.4 409.5C223.7 413.1 226.1 415.7 227.9 416.2C229.8 416.8 232.0 415.1 233.5 412.9C235.0 410.6 236.3 406.6 236.8 402.9C237.4 399.1 237.4 394.7 236.8 390.6C236.3 386.5 234.1 380.4 233.5 378.4M250.2 408.4C249.7 407.6 248.4 404.2 247.4 403.4C246.4 402.6 245.1 402.4 244.1 403.4C243.1 404.4 241.9 407.0 241.3 409.5C240.6 412.0 240.0 416.2 240.2 418.4C240.4 420.7 241.3 423.0 242.4 422.9C243.5 422.8 245.6 420.3 246.9 417.9C248.2 415.5 249.6 409.1 250.2 408.4C250.9 407.8 250.2 411.8 250.8 414.0C251.3 416.2 252.2 420.3 253.5 421.8C254.8 423.3 257.7 422.7 258.6 422.9"/>
<path stroke="#000085" stroke-width="4.0" stroke-opacity="0.35" d="M269.5 414.7C269.8 415.5 271.2 417.6 271.3 419.4C271.4 421.1 270.3 424.2 270.1 425.2M289.3 371.1C289.4 374.1 289.9 381.4 289.9 389.1C289.9 396.8 289.4 412.4 289.3 417.0M310.9 368.7C308.9 370.6 302.5 376.2 299.2 379.8C295.9 383.4 292.4 388.5 291.1 390.3M291.1 387.9C291.9 390.1 294.1 396.4 295.7 400.7C297.4 405.1 300.1 411.9 301.0 414.1M308.0 400.2C308.1 402.0 308.4 407.7 308.5 411.2C308.6 414.7 308.5 419.5 308.5 421.1M308.0 399.6C308.8 399.2 311.5 397.2 313.2 397.2C314.8 397.2 317.1 398.2 317.9 399.6C318.6 400.9 318.8 403.8 317.9 405.4C316.9 406.9 312.2 408.1 312.0 408.9C311.8 409.7 315.5 408.9 316.7 410.1C317.9 411.2 319.2 414.2 319.0 415.9C318.8 417.5 317.3 419.1 315.5 419.9C313.8 420.8 309.7 420.9 308.5 421.1M329.5 402.5C328.7 402.1 326.2 400.3 324.8 400.2C323.5 400.1 321.9 400.8 321.3 401.9C320.8 403.0 320.4 405.2 321.3 406.6C322.3 407.9 325.4 408.9 327.2 410.1C328.9 411.2 331.2 412.0 331.8 413.5C332.4 415.1 331.8 418.3 330.7 419.4C329.5 420.4 325.8 419.8 324.8 419.9M337.1 360.6C338.9 362.0 345.1 365.7 348.1 369.3C351.1 372.9 353.5 377.3 355.1 382.1C356.8 387.0 358.2 392.6 358.0 398.4C357.8 404.2 355.8 411.8 353.9 417.0C352.1 422.3 349.4 426.1 347.0 429.8C344.5 433.6 340.6 438.1 339.4 439.7"/>
<path stroke="#000085" stroke-width="2.5" d="M269.5 414.7C269.8 415.5 271.2 417.6 271.3 419.4C271.4 421.1 270.3 424.2 270.1 425.2M289.3 371.1C289.4 374.1 289.9 381.4 289.9 389.1C289.9 396.8 289.4 412.4 289.3 417.0M310.9 368.7C308.9 370.6 302.5 376.2 299.2 379.8C295.9 383.4 292.4 388.5 291.1 390.3M291.1 387.9C291.9 390.1 294.1 396.4 295.7 400.7C297.4 405.1 300.1 411.9 301.0 414.1M308.0 400.2C308.1 402.0 308.4 407.7 308.5 411.2C308.6 414.7 308.5 419.5 308.5 421.1M308.0 399.6C308.8 399.2 311.5 397.2 313.2 397.2C314.8 397.2 317.1 398.2 317.9 399.6C318.6 400.9 318.8 403.8 317.9 405.4C316.9 406.9 312.2 408.1 312.0 408.9C311.8 409.7 315.5 408.9 316.7 410.1C317.9 411.2 319.2 414.2 319.0 415.9C318.8 417.5 317.3 419.1 315.5 419.9C313.8 420.8 309.7 420.9 308.5 421.1M329.5 402.5C328.7 402.1 326.2 400.3 324.8 400.2C323.5 400.1 321.9 400.8 321.3 401.9C320.8 403.0 320.4 405.2 321.3 406.6C322.3 407.9 325.4 408.9 327.2 410.1C328.9 411.2 331.2 412.0 331.8 413.5C332.4 415.1 331.8 418.3 330.7 419.4C329.5 420.4 325.8 419.8 324.8 419.9M337.1 360.6C338.9 362.0 345.1 365.7 348.1 369.3C351.1 372.9 353.5 377.3 355.1 382.1C356.8 387.0 358.2 392.6 358.0 398.4C357.8 404.2 355.8 411.8 353.9 417.0C352.1 422.3 349.4 426.1 347.0 429.8C344.5 433.6 340.6 438.1 339.4 439.7"/>
<path stroke="#0a870a" stroke-width="4.0" stroke-opacity="0.35" d="M404.0 379.7C404.0 383.5 403.6 395.9 403.5 402.4C403.4 408.9 403.2 412.8 403.5 418.6C403.8 424.4 404.9 433.9 405.1 437.0M426.2 378.1C424.3 379.8 418.6 384.3 414.8 388.4C411.1 392.4 405.4 400.1 403.5 402.4M407.8 401.3C408.6 402.6 411.2 405.5 412.7 408.9C414.2 412.3 415.7 417.4 417.0 421.9C418.3 426.4 419.7 433.6 420.2 435.9M424.6 416.5C424.9 418.6 426.3 425.2 426.7 429.4C427.2 433.6 427.2 439.8 427.3 441.8M426.2 411.6C427.0 411.4 429.9 409.9 431.0 410.5C432.2 411.1 433.6 413.5 433.2 415.4C432.8 417.3 428.7 420.1 428.9 421.9C429.1 423.7 433.5 423.8 434.3 426.2C435.1 428.5 435.0 433.4 433.8 435.9C432.5 438.4 428.8 440.3 426.7 441.3C424.7 442.3 422.2 441.7 421.3 441.8M444.6 407.3C444.3 406.9 444.0 404.7 442.9 405.1C441.9 405.6 439.2 408.1 438.1 410.0C437.0 411.9 435.6 414.5 436.5 416.5C437.3 418.4 441.0 419.9 442.9 421.9C444.8 423.8 447.3 425.8 447.8 428.3C448.3 430.9 447.3 434.7 446.2 437.0C445.0 439.2 442.6 440.9 440.8 441.8C439.0 442.7 436.3 442.3 435.4 442.4"/>
<path stroke="#0a870a" stroke-width="2.5" d="M404.0 379.7C404.0 383.5 403.6 395.9 403.5 402.4C403.4 408.9 403.2 412.8 403.5 418.6C403.8 424.4 404.9 433.9 405.1 437.0M426.2 378.1C424.3 379.8 418.6 384.3 414.8 388.4C411.1 392.4 405.4 400.1 403.5 402.4M407.8 401.3C408.6 402.6 411.2 405.5 412.7 408.9C414.2 412.3 415.7 417.4 417.0 421.9C418.3 426.4 419.7 433.6 420.2 435.9M424.6 416.5C424.9 418.6 426.3 425.2 426.7 429.4C427.2 433.6 427.2 439.8 427.3 441.8M426.2 411.6C427.0 411.4 429.9 409.9 431.0 410.5C432.2 411.1 433.6 413.5 433.2 415.4C432.8 417.3 428.7 420.1 428.9 421.9C429.1 423.7 433.5 423.8 434.3 426.2C435.1 428.5 435.0 433.4 433.8 435.9C432.5 438.4 428.8 440.3 426.7 441.3C424.7 442.3 422.2 441.7 421.3 441.8M444.6 407.3C444.3 406.9 444.0 404.7 442.9 405.1C441.9 405.6 439.2 408.1 438.1 410.0C437.0 411.9 435.6 414.5 436.5 416.5C437.3 418.4 441.0 419.9 442.9 421.9C444.8 423.8 447.3 425.8 447.8 428.3C448.3 430.9 447.3 434.7 446.2 437.0C445.0 439.2 442.6 440.9 440.8 441.8C439.0 442.7 436.3 442.3 435.4 442.4"/>
<path stroke="#000085" stroke-width="4.0" stroke-opacity="0.35" d="M549.1 405.8C550.6 405.2 555.1 403.3 558.3 402.2C561.4 401.1 566.4 399.6 568.0 399.1M552.2 408.3C551.8 412.1 550.5 424.1 549.7 431.4C548.9 438.7 546.9 448.3 547.3 452.1C547.7 455.8 548.7 454.8 552.2 453.9C555.6 453.0 565.4 447.8 568.0 446.6M554.0 430.2C554.9 430.0 557.6 429.1 559.5 428.9C561.3 428.7 564.0 428.9 564.9 428.9M586.8 391.8C586.1 392.1 584.1 390.3 582.6 393.7C581.1 397.0 578.8 405.4 577.7 411.9C576.6 418.4 575.9 426.1 575.9 432.6C575.9 439.1 576.5 445.8 577.7 450.8C578.9 455.9 582.3 461.0 583.2 463.0M597.2 405.8C597.3 410.3 597.6 423.7 597.8 432.6C598.0 441.5 598.3 454.9 598.4 459.4M598.4 407.6C599.6 407.3 603.1 405.1 605.7 405.8C608.3 406.5 612.5 409.3 614.2 411.9C615.9 414.5 616.5 418.2 616.1 421.6C615.6 425.1 613.7 429.7 611.8 432.6C609.9 435.4 607.2 437.5 604.5 438.7C601.8 439.9 596.9 439.7 595.4 439.9M621.5 408.3C621.3 411.3 620.1 419.8 620.3 426.5C620.5 433.2 621.5 442.7 622.7 448.4C624.0 454.1 626.0 459.0 627.6 460.6C629.2 462.2 630.9 460.4 632.5 458.1C634.1 455.9 636.3 451.9 637.3 447.2C638.4 442.5 638.8 434.6 638.6 430.2C638.4 425.7 637.3 423.9 636.1 420.4C634.9 417.0 632.1 411.3 631.3 409.5"/>
<path stroke="#000085" stroke-width="2.5" d="M549.1 405.8C550.6 405.2 555.1 403.3 558.3 402.2C561.4 401.1 566.4 399.6 568.0 399.1M552.2 408.3C551.8 412.1 550.5 424.1 549.7 431.4C548.9 438.7 546.9 448.3 547.3 452.1C547.7 455.8 548.7 454.8 552.2 453.9C555.6 453.0 565.4 447.8 568.0 446.6M554.0 430.2C554.9 430.0 557.6 429.1 559.5 428.9C561.3 428.7 564.0 428.9 564.9 428.9M586.8 391.8C586.1 392.1 584.1 390.3 582.6 393.7C581.1 397.0 578.8 405.4 577.7 411.9C576.6 418.4 575.9 426.1 575.9 432.6C575.9 439.1 576.5 445.8 577.7 450.8C578.9 455.9 582.3 461.0 583.2 463.0M597.2 405.8C597.3 410.3 597.6 423.7 597.8 432.6C598.0 441.5 598.3 454.9 598.4 459.4M598.4 407.6C599.6 407.3 603.1 405.1 605.7 405.8C608.3 406.5 612.5 409.3 614.2 411.9C615.9 414.5 616.5 418.2 616.1 421.6C615.6 425.1 613.7 429.7 611.8 432.6C609.9 435.4 607.2 437.5 604.5 438.7C601.8 439.9 596.9 439.7 595.4 439.9M621.5 408.3C621.3 411.3 620.1 419.8 620.3 426.5C620.5 433.2 621.5 442.7 622.7 448.4C624.0 454.1 626.0 459.0 627.6 460.6C629.2 462.2 630.9 460.4 632.5 458.1C634.1 455.9 636.3 451.9 637.3 447.2C638.4 442.5 638.8 434.6 638.6 430.2C638.4 425.7 637.3 423.9 636.1 420.4C634.9 417.0 632.1 411.3 631.3 409.5"/>
<path stroke="#000085" stroke-width="4.0" stroke-opacity="0.35" d="M652.8 436.1C651.9 435.6 649.6 433.0 647.8 433.0C646.0 433.0 643.1 434.6 642.1 436.1C641.2 437.6 641.1 440.1 642.1 441.8C643.2 443.4 646.5 444.6 648.5 446.0C650.5 447.4 653.3 448.4 654.2 450.3C655.0 452.2 654.6 455.6 653.5 457.3C652.3 459.0 649.6 460.0 647.1 460.5C644.6 460.9 640.0 460.2 638.6 460.2M668.3 451.7C668.1 452.9 667.5 456.6 666.9 458.8C666.3 460.9 665.2 463.5 664.8 464.4M688.9 406.3C689.4 409.2 690.9 417.0 691.7 423.3C692.5 429.7 692.9 437.5 693.8 444.6C694.8 451.7 696.8 462.3 697.4 465.9M713.7 406.3C712.0 408.0 706.8 412.2 703.8 416.3C700.7 420.3 697.0 427.1 695.3 430.4C693.5 433.7 693.5 435.1 693.1 436.1M693.8 431.8C694.8 433.5 697.6 438.1 699.5 441.8C701.4 445.4 704.2 451.8 705.2 453.8M712.3 440.3C712.5 442.7 713.1 449.8 713.7 454.5C714.3 459.2 715.5 466.3 715.8 468.7M711.6 439.6C712.6 439.3 715.9 437.6 717.9 437.5C719.9 437.4 722.5 437.5 723.6 438.9C724.7 440.3 725.3 443.9 724.3 446.0C723.4 448.1 718.3 450.5 717.9 451.7C717.6 452.9 721.0 451.9 722.2 453.1C723.4 454.3 724.8 456.6 725.0 458.8C725.3 460.9 725.3 464.3 723.6 465.9C722.0 467.4 716.5 467.6 715.1 468.0M741.3 437.5C740.7 437.3 739.3 435.6 737.8 436.1C736.2 436.6 733.0 438.9 732.1 440.3C731.2 441.8 730.9 443.2 732.1 444.6C733.3 446.0 737.1 447.2 739.2 448.8C741.3 450.5 744.1 452.4 744.9 454.5C745.6 456.6 744.6 459.9 743.4 461.6C742.3 463.3 739.9 464.0 737.8 464.4C735.6 464.9 731.9 464.4 730.7 464.4M749.1 397.1C750.8 399.1 756.4 404.3 759.0 409.2C761.6 414.0 763.5 420.5 764.7 426.2C765.9 431.8 766.6 437.3 766.1 443.2C765.6 449.1 764.7 455.1 761.9 461.6C759.0 468.1 751.2 478.7 749.1 482.1"/>
<path stroke="#000085" stroke-width="2.5" d="M652.8 436.1C651.9 435.6 649.6 433.0 647.8 433.0C646.0 433.0 643.1 434.6 642.1 436.1C641.2 437.6 641.1 440.1 642.1 441.8C643.2 443.4 646.5 444.6 648.5 446.0C650.5 447.4 653.3 448.4 654.2 450.3C655.0 452.2 654.6 455.6 653.5 457.3C652.3 459.0 649.6 460.0 647.1 460.5C644.6 460.9 640.0 460.2 638.6 460.2M668.3 451.7C668.1 452.9 667.5 456.6 666.9 458.8C666.3 460.9 665.2 463.5 664.8 464.4M688.9 406.3C689.4 409.2 690.9 417.0 691.7 423.3C692.5 429.7 692.9 437.5 693.8 444.6C694.8 451.7 696.8 462.3 697.4 465.9M713.7 406.3C712.0 408.0 706.8 412.2 703.8 416.3C700.7 420.3 697.0 427.1 695.3 430.4C693.5 433.7 693.5 435.1 693.1 436.1M693.8 431.8C694.8 433.5 697.6 438.1 699.5 441.8C701.4 445.4 704.2 451.8 705.2 453.8M712.3 440.3C712.5 442.7 713.1 449.8 713.7 454.5C714.3 459.2 715.5 466.3 715.8 468.7M711.6 439.6C712.6 439.3 715.9 437.6 717.9 437.5C719.9 437.4 722.5 437.5 723.6 438.9C724.7 440.3 725.3 443.9 724.3 446.0C723.4 448.1 718.3 450.5 717.9 451.7C717.6 452.9 721.0 451.9 722.2 453.1C723.4 454.3 724.8 456.6 725.0 458.8C725.3 460.9 725.3 464.3 723.6 465.9C722.0 467.4 716.5 467.6 715.1 468.0M741.3 437.5C740.7 437.3 739.3 435.6 737.8 436.1C736.2 436.6 733.0 438.9 732.1 440.3C731.2 441.8 730.9 443.2 732.1 444.6C733.3 446.0 737.1 447.2 739.2 448.8C741.3 450.5 744.1 452.4 744.9 454.5C745.6 456.6 744.6 459.9 743.4 461.6C742.3 463.3 739.9 464.0 737.8 464.4C735.6 464.9 731.9 464.4 730.7 464.4M749.1 397.1C750.8 399.1 756.4 404.3 759.0 409.2C761.6 414.0 763.5 420.5 764.7 426.2C765.9 431.8 766.6 437.3 766.1 443.2C765.6 449.1 764.7 455.1 761.9 461.6C759.0 468.1 751.2 478.7 749.1 482.1"/>
<path stroke="#0a870a" stroke-width="4.0" stroke-opacity="0.35" d="M851.2 452.0C851.1 456.3 851.0 467.1 850.7 477.4C850.3 487.8 849.3 508.1 849.1 514.2M875.5 456.9C873.3 459.2 866.1 466.6 862.0 470.9C858.0 475.3 853.0 480.9 851.2 482.8M856.6 480.7C857.3 482.5 859.8 486.4 860.9 491.5C862.1 496.5 863.2 507.7 863.6 510.9M870.1 489.3C870.5 491.5 871.8 498.3 872.3 502.3C872.8 506.3 873.2 511.3 873.4 513.1M874.5 487.7C875.1 487.5 877.3 486.0 878.2 486.6C879.2 487.3 880.8 489.4 880.4 491.5C880.0 493.6 876.1 497.1 876.1 499.1C876.1 501.0 879.5 501.4 880.4 503.4C881.3 505.4 882.2 508.9 881.5 510.9C880.8 513.0 878.4 515.3 876.1 515.8C873.7 516.4 868.9 514.5 867.4 514.2M897.7 492.6C897.1 491.6 895.7 487.2 893.9 486.6C892.1 486.1 888.6 487.8 886.9 489.3C885.2 490.9 882.6 493.8 883.6 495.8C884.7 497.8 890.7 499.4 893.4 501.2C896.1 503.0 898.8 504.1 899.9 506.6C900.9 509.1 901.3 514.0 899.9 516.4C898.4 518.7 894.5 520.1 891.2 520.7C888.0 521.2 882.2 519.8 880.4 519.6"/>
<path stroke="#0a870a" stroke-width="2.5" d="M851.2 452.0C851.1 456.3 851.0 467.1 850.7 477.4C850.3 487.8 849.3 508.1 849.1 514.2M875.5 456.9C873.3 459.2 866.1 466.6 862.0 470.9C858.0 475.3 853.0 480.9 851.2 482.8M856.6 480.7C857.3 482.5 859.8 486.4 860.9 491.5C862.1 496.5 863.2 507.7 863.6 510.9M870.1 489.3C870.5 491.5 871.8 498.3 872.3 502.3C872.8 506.3 873.2 511.3 873.4 513.1M874.5 487.7C875.1 487.5 877.3 486.0 878.2 486.6C879.2 487.3 880.8 489.4 880.4 491.5C880.0 493.6 876.1 497.1 876.1 499.1C876.1 501.0 879.5 501.4 880.4 503.4C881.3 505.4 882.2 508.9 881.5 510.9C880.8 513.0 878.4 515.3 876.1 515.8C873.7 516.4 868.9 514.5 867.4 514.2M897.7 492.6C897.1 491.6 895.7 487.2 893.9 486.6C892.1 486.1 888.6 487.8 886.9 489.3C885.2 490.9 882.6 493.8 883.6 495.8C884.7 497.8 890.7 499.4 893.4 501.2C896.1 503.0 898.8 504.1 899.9 506.6C900.9 509.1 901.3 514.0 899.9 516.4C898.4 518.7 894.5 520.1 891.2 520.7C888.0 521.2 882.2 519.8 880.4 519.6"/>
<path stroke="#000085" stroke-width="4.0" stroke-opacity="0.35" d="M133.4 567.8C134.7 568.1 138.8 569.7 141.7 569.5C144.6 569.3 149.1 567.2 150.6 566.7M133.4 567.8C133.4 571.3 133.6 582.8 133.9 589.0C134.2 595.1 133.9 601.9 135.0 604.6C136.1 607.2 138.6 605.3 140.6 605.1C142.5 604.9 145.7 603.7 146.7 603.4M133.4 589.5C134.6 589.2 138.2 587.9 140.6 587.3C143.0 586.7 146.6 586.4 147.8 586.2M161.7 550.0C161.3 552.2 159.7 557.8 159.0 563.4C158.2 568.9 157.2 577.3 157.3 583.4C157.4 589.5 158.0 595.3 159.5 600.1C161.0 604.9 163.2 609.3 166.2 612.3C169.2 615.4 175.5 617.5 177.3 618.5M180.1 564.5C180.0 567.6 179.7 576.7 179.6 583.4C179.4 590.1 179.1 601.0 179.0 604.6M198.5 562.2C196.8 563.9 191.4 568.7 188.5 572.3C185.5 575.8 182.0 581.5 180.7 583.4M182.9 580.1C183.8 581.5 186.7 584.6 188.5 589.0C190.2 593.3 192.6 603.3 193.5 606.2M199.0 592.9C199.4 594.6 201.0 600.0 201.3 603.4C201.5 606.9 200.8 611.8 200.7 613.5M200.7 590.1C201.6 590.0 204.8 588.8 206.3 589.5C207.8 590.3 209.6 592.8 209.6 594.5C209.6 596.3 207.4 599.0 206.3 600.1C205.2 601.2 202.4 600.8 202.9 601.2C203.5 601.6 208.3 601.0 209.6 602.3C210.9 603.6 211.5 607.1 210.7 609.0C210.0 611.0 207.0 613.3 205.2 614.0C203.3 614.8 200.5 613.6 199.6 613.5M222.4 587.3C222.0 587.1 220.5 585.9 219.6 586.2C218.8 586.5 217.4 587.6 217.4 589.0C217.4 590.4 218.4 592.9 219.6 594.5C220.8 596.2 223.8 597.3 224.6 599.0C225.5 600.7 225.1 603.2 224.6 604.6C224.2 605.9 223.4 606.7 221.9 607.3C220.3 608.0 216.3 608.3 215.2 608.5"/>
<path stroke="#000085" stroke-width="2.5" d="M133.4 567.8C134.7 568.1 138.8 569.7 141.7 569.5C144.6 569.3 149.1 567.2 150.6 566.7M133.4 567.8C133.4 571.3 133.6 582.8 133.9 589.0C134.2 595.1 133.9 601.9 135.0 604.6C136.1 607.2 138.6 605.3 140.6 605.1C142.5 604.9 145.7 603.7 146.7 603.4M133.4 589.5C134.6 589.2 138.2 587.9 140.6 587.3C143.0 586.7 146.6 586.4 147.8 586.2M161.7 550.0C161.3 552.2 159.7 557.8 159.0 563.4C158.2 568.9 157.2 577.3 157.3 583.4C157.4 589.5 158.0 595.3 159.5 600.1C161.0 604.9 163.2 609.3 166.2 612.3C169.2 615.4 175.5 617.5 177.3 618.5M180.1 564.5C180.0 567.6 179.7 576.7 179.6 583.4C179.4 590.1 179.1 601.0 179.0 604.6M198.5 562.2C196.8 563.9 191.4 568.7 188.5 572.3C185.5 575.8 182.0 581.5 180.7 583.4M182.9 580.1C183.8 581.5 186.7 584.6 188.5 589.0C190.2 593.3 192.6 603.3 193.5 606.2M199.0 592.9C199.4 594.6 201.0 600.0 201.3 603.4C201.5 606.9 200.8 611.8 200.7 613.5M200.7 590.1C201.6 590.0 204.8 588.8 206.3 589.5C207.8 590.3 209.6 592.8 209.6 594.5C209.6 596.3 207.4 599.0 206.3 600.1C205.2 601.2 202.4 600.8 202.9 601.2C203.5 601.6 208.3 601.0 209.6 602.3C210.9 603.6 211.5 607.1 210.7 609.0C210.0 611.0 207.0 613.3 205.2 614.0C203.3 614.8 200.5 613.6 199.6 613.5M222.4 587.3C222.0 587.1 220.5 585.9 219.6 586.2C218.8 586.5 217.4 587.6 217.4 589.0C217.4 590.4 218.4 592.9 219.6 594.5C220.8 596.2 223.8 597.3 224.6 599.0C225.5 600.7 225.1 603.2 224.6 604.6C224.2 605.9 223.4 606.7 221.9 607.3C220.3 608.0 216.3 608.3 215.2 608.5"/>
<path stroke="#000085" stroke-width="4.0" stroke-opacity="0.35" d="M235.9 603.4C235.7 604.7 235.2 608.4 234.7 610.7C234.2 613.1 233.2 616.3 232.9 617.4M312.4 553.0C314.1 554.8 319.5 558.8 322.2 563.4C324.8 567.9 327.4 574.5 328.2 580.4C329.0 586.2 328.0 593.5 327.0 598.6C326.0 603.6 323.8 606.7 322.2 610.7C320.5 614.8 318.1 620.9 317.3 622.9"/>
<path stroke="#000085" stroke-width="2.5" d="M235.9 603.4C235.7 604.7 235.2 608.4 234.7 610.7C234.2 613.1 233.2 616.3 232.9 617.4M312.4 553.0C314.1 554.8 319.5 558.8 322.2 563.4C324.8 567.9 327.4 574.5 328.2 580.4C329.0 586.2 328.0 593.5 327.0 598.6C326.0 603.6 323.8 606.7 322.2 610.7C320.5 614.8 318.1 620.9 317.3 622.9"/>
<path stroke="#000085" stroke-width="4.0" stroke-opacity="0.35" d="M253.6 567.2C253.9 569.2 254.7 572.2 255.3 579.3C255.8 586.5 256.6 605.0 256.9 610.1M252.8 561.5C253.7 561.3 256.0 560.3 258.1 560.7C260.2 561.1 263.2 561.9 265.4 563.9C267.6 565.9 269.9 569.9 271.1 572.8C272.3 575.8 272.8 578.8 272.7 581.7C272.6 584.7 271.6 587.8 270.3 590.7C268.9 593.5 266.5 596.9 264.6 598.8C262.7 600.6 260.7 601.1 258.9 601.6C257.2 602.1 254.9 601.9 254.1 602.0M281.6 587.4C280.7 586.2 277.6 580.4 275.9 580.1C274.3 579.9 272.8 583.2 271.9 585.8C270.9 588.4 270.3 592.9 270.3 595.5C270.3 598.2 270.9 601.1 271.9 601.6C272.8 602.1 274.4 600.7 275.9 598.8C277.4 596.8 279.7 591.7 280.8 589.9C281.9 588.0 282.8 586.5 282.4 587.4C282.0 588.4 278.9 592.8 278.4 595.5C277.8 598.2 279.0 602.3 279.2 603.6M288.9 569.6C289.2 572.6 289.7 580.7 290.5 587.4C291.3 594.2 293.2 606.3 293.8 610.1M281.6 589.0C282.6 588.9 285.3 588.3 287.3 588.2C289.3 588.2 292.7 588.6 293.8 588.6M306.7 589.9C306.1 589.8 303.9 588.5 302.7 589.4C301.5 590.4 300.2 592.9 299.4 595.5C298.6 598.2 297.8 602.8 297.8 605.2C297.8 607.7 298.6 610.1 299.4 610.1C300.2 610.1 301.5 607.4 302.7 605.2C303.9 603.1 305.2 600.0 306.7 597.1C308.2 594.3 311.3 588.0 311.6 588.2C311.9 588.5 308.9 594.8 308.4 598.8C307.8 602.7 308.1 609.0 308.4 611.7C308.6 614.4 309.7 614.4 310.0 615.0"/>
<path stroke="#000085" stroke-width="2.5" d="M253.6 567.2C253.9 569.2 254.7 572.2 255.3 579.3C255.8 586.5 256.6 605.0 256.9 610.1M252.8 561.5C253.7 561.3 256.0 560.3 258.1 560.7C260.2 561.1 263.2 561.9 265.4 563.9C267.6 565.9 269.9 569.9 271.1 572.8C272.3 575.8 272.8 578.8 272.7 581.7C272.6 584.7 271.6 587.8 270.3 590.7C268.9 593.5 266.5 596.9 264.6 598.8C262.7 600.6 260.7 601.1 258.9 601.6C257.2 602.1 254.9 601.9 254.1 602.0M281.6 587.4C280.7 586.2 277.6 580.4 275.9 580.1C274.3 579.9 272.8 583.2 271.9 585.8C270.9 588.4 270.3 592.9 270.3 595.5C270.3 598.2 270.9 601.1 271.9 601.6C272.8 602.1 274.4 600.7 275.9 598.8C277.4 596.8 279.7 591.7 280.8 589.9C281.9 588.0 282.8 586.5 282.4 587.4C282.0 588.4 278.9 592.8 278.4 595.5C277.8 598.2 279.0 602.3 279.2 603.6M288.9 569.6C289.2 572.6 289.7 580.7 290.5 587.4C291.3 594.2 293.2 606.3 293.8 610.1M281.6 589.0C282.6 588.9 285.3 588.3 287.3 588.2C289.3 588.2 292.7 588.6 293.8 588.6M306.7 589.9C306.1 589.8 303.9 588.5 302.7 589.4C301.5 590.4 300.2 592.9 299.4 595.5C298.6 598.2 297.8 602.8 297.8 605.2C297.8 607.7 298.6 610.1 299.4 610.1C300.2 610.1 301.5 607.4 302.7 605.2C303.9 603.1 305.2 600.0 306.7 597.1C308.2 594.3 311.3 588.0 311.6 588.2C311.9 588.5 308.9 594.8 308.4 598.8C307.8 602.7 308.1 609.0 308.4 611.7C308.6 614.4 309.7 614.4 310.0 615.0"/>
<path stroke="#ff0000" stroke-width="4.0" stroke-opacity="0.35" d="M374.9 646.1C375.3 649.1 376.8 657.6 377.2 664.4C377.6 671.3 377.2 681.7 377.2 687.4C377.2 693.2 377.2 697.0 377.2 698.9M378.9 645.5C379.6 644.7 381.0 641.4 383.0 640.9C385.0 640.4 388.7 641.0 391.0 642.6C393.3 644.3 395.4 647.0 396.7 650.7C398.1 654.3 399.0 659.9 399.0 664.4C399.0 669.0 398.1 673.8 396.7 678.2C395.4 682.6 393.3 687.4 391.0 690.9C388.7 694.3 385.3 697.4 383.0 698.9C380.7 700.4 379.3 700.8 377.2 700.0C375.1 699.3 371.5 695.3 370.3 694.3M415.1 672.5C413.2 670.8 406.5 661.6 403.6 662.2C400.8 662.7 398.7 671.0 397.9 675.9C397.1 680.9 398.1 688.9 399.0 692.0C400.0 695.1 401.7 695.6 403.6 694.3C405.5 693.0 408.4 687.4 410.5 684.0C412.6 680.5 416.3 673.4 416.3 673.6C416.3 673.8 411.5 681.3 410.5 685.1C409.6 688.9 410.5 694.7 410.5 696.6M422.6 641.5C422.7 646.3 423.0 660.2 423.2 670.2C423.3 680.1 423.6 696.0 423.7 701.2M412.8 670.8L431.8 669.0M450.7 673.1C449.4 672.7 445.4 669.7 442.7 670.8C440.0 671.8 436.5 675.5 434.6 679.4C432.8 683.3 431.6 691.5 431.8 694.3C432.0 697.1 434.0 697.6 435.8 696.0C437.6 694.5 440.2 689.0 442.7 685.1C445.2 681.2 450.3 672.1 450.7 672.5C451.1 672.9 446.1 682.2 445.0 687.4C443.8 692.6 443.1 700.6 443.8 703.5C444.6 706.4 448.6 704.4 449.6 704.6"/>
<path stroke="#ff0000" stroke-width="2.5" d="M374.9 646.1C375.3 649.1 376.8 657.6 377.2 664.4C377.6 671.3 377.2 681.7 377.2 687.4C377.2 693.2 377.2 697.0 377.2 698.9M378.9 645.5C379.6 644.7 381.0 641.4 383.0 640.9C385.0 640.4 388.7 641.0 391.0 642.6C393.3 644.3 395.4 647.0 396.7 650.7C398.1 654.3 399.0 659.9 399.0 664.4C399.0 669.0 398.1 673.8 396.7 678.2C395.4 682.6 393.3 687.4 391.0 690.9C388.7 694.3 385.3 697.4 383.0 698.9C380.7 700.4 379.3 700.8 377.2 700.0C375.1 699.3 371.5 695.3 370.3 694.3M415.1 672.5C413.2 670.8 406.5 661.6 403.6 662.2C400.8 662.7 398.7 671.0 397.9 675.9C397.1 680.9 398.1 688.9 399.0 692.0C400.0 695.1 401.7 695.6 403.6 694.3C405.5 693.0 408.4 687.4 410.5 684.0C412.6 680.5 416.3 673.4 416.3 673.6C416.3 673.8 411.5 681.3 410.5 685.1C409.6 688.9 410.5 694.7 410.5 696.6M422.6 641.5C422.7 646.3 423.0 660.2 423.2 670.2C423.3 680.1 423.6 696.0 423.7 701.2M412.8 670.8L431.8 669.0M450.7 673.1C449.4 672.7 445.4 669.7 442.7 670.8C440.0 671.8 436.5 675.5 434.6 679.4C432.8 683.3 431.6 691.5 431.8 694.3C432.0 697.1 434.0 697.6 435.8 696.0C437.6 694.5 440.2 689.0 442.7 685.1C445.2 681.2 450.3 672.1 450.7 672.5C451.1 672.9 446.1 682.2 445.0 687.4C443.8 692.6 443.1 700.6 443.8 703.5C444.6 706.4 448.6 704.4 449.6 704.6"/>
<path stroke="#000085" stroke-width="4.0" stroke-opacity="0.35" d="M539.5 600.8C540.9 600.2 544.8 597.5 547.8 596.9C550.8 596.4 555.7 597.4 557.3 597.5M539.5 600.8C539.2 604.4 538.2 615.9 537.8 622.5C537.4 629.1 536.3 636.9 537.2 640.3C538.2 643.8 539.5 643.9 543.4 643.1C547.3 642.4 557.7 637.1 560.6 635.9M542.8 619.2C544.4 618.8 549.1 617.4 552.3 617.0C555.4 616.5 560.2 616.5 561.7 616.4M574.5 579.7C574.1 579.9 572.6 577.9 571.8 581.3C570.9 584.8 569.9 593.8 569.5 600.3C569.2 606.8 569.1 614.4 569.5 620.3C570.0 626.2 570.9 631.8 572.3 635.9C573.7 640.0 575.6 642.8 577.9 644.8C580.1 646.8 584.4 647.6 585.7 648.1M591.8 593.6C592.0 596.6 592.6 605.0 592.9 611.4C593.2 617.8 593.4 628.6 593.5 632.0M614.6 595.8C612.6 597.5 606.1 601.8 602.4 605.8C598.7 609.9 594.0 617.9 592.3 620.3M595.7 613.6C596.8 615.3 600.2 620.0 602.4 623.6C604.5 627.3 607.5 633.4 608.5 635.3M611.8 620.9C612.3 622.1 614.1 625.8 614.6 628.1C615.2 630.4 615.1 633.7 615.2 634.8M610.2 619.2C611.5 618.5 615.4 615.3 618.0 615.3C620.6 615.3 624.4 617.6 625.7 619.2C627.1 620.8 626.7 623.5 626.3 624.8C625.9 626.1 623.2 626.1 623.5 627.0C623.8 627.9 627.4 628.7 628.0 630.3C628.5 632.0 628.5 635.4 626.9 637.0C625.2 638.6 620.2 639.5 618.0 639.8C615.7 640.1 614.2 638.9 613.5 638.7"/>
<path stroke="#000085" stroke-width="2.5" d="M539.5 600.8C540.9 600.2 544.8 597.5 547.8 596.9C550.8 596.4 555.7 597.4 557.3 597.5M539.5 600.8C539.2 604.4 538.2 615.9 537.8 622.5C537.4 629.1 536.3 636.9 537.2 640.3C538.2 643.8 539.5 643.9 543.4 643.1C547.3 642.4 557.7 637.1 560.6 635.9M542.8 619.2C544.4 618.8 549.1 617.4 552.3 617.0C555.4 616.5 560.2 616.5 561.7 616.4M574.5 579.7C574.1 579.9 572.6 577.9 571.8 581.3C570.9 584.8 569.9 593.8 569.5 600.3C569.2 606.8 569.1 614.4 569.5 620.3C570.0 626.2 570.9 631.8 572.3 635.9C573.7 640.0 575.6 642.8 577.9 644.8C580.1 646.8 584.4 647.6 585.7 648.1M591.8 593.6C592.0 596.6 592.6 605.0 592.9 611.4C593.2 617.8 593.4 628.6 593.5 632.0M614.6 595.8C612.6 597.5 606.1 601.8 602.4 605.8C598.7 609.9 594.0 617.9 592.3 620.3M595.7 613.6C596.8 615.3 600.2 620.0 602.4 623.6C604.5 627.3 607.5 633.4 608.5 635.3M611.8 620.9C612.3 622.1 614.1 625.8 614.6 628.1C615.2 630.4 615.1 633.7 615.2 634.8M610.2 619.2C611.5 618.5 615.4 615.3 618.0 615.3C620.6 615.3 624.4 617.6 625.7 619.2C627.1 620.8 626.7 623.5 626.3 624.8C625.9 626.1 623.2 626.1 623.5 627.0C623.8 627.9 627.4 628.7 628.0 630.3C628.5 632.0 628.5 635.4 626.9 637.0C625.2 638.6 620.2 639.5 618.0 639.8C615.7 640.1 614.2 638.9 613.5 638.7"/>
<path stroke="#000085" stroke-width="4.0" stroke-opacity="0.35" d="M637.7 621.9C636.7 621.6 634.0 620.1 632.0 620.2C630.0 620.3 626.5 621.5 625.6 622.6C624.8 623.7 625.0 625.6 627.0 626.9C629.1 628.2 634.8 628.9 637.7 630.4C640.5 632.0 643.5 634.2 644.0 636.1C644.6 638.0 643.5 640.8 641.2 641.8C639.0 642.8 632.4 642.0 630.6 642.0M655.4 637.5C655.1 638.5 654.6 641.2 654.0 643.2C653.4 645.2 652.2 648.5 651.8 649.6M729.1 583.0C730.8 585.7 737.0 593.9 739.7 599.3C742.4 604.6 744.9 608.9 745.4 614.8C745.8 620.7 743.9 629.5 742.5 634.7C741.1 639.9 738.8 642.7 736.9 646.0C735.0 649.3 732.1 653.1 731.2 654.5"/>
<path stroke="#000085" stroke-width="2.5" d="M637.7 621.9C636.7 621.6 634.0 620.1 632.0 620.2C630.0 620.3 626.5 621.5 625.6 622.6C624.8 623.7 625.0 625.6 627.0 626.9C629.1 628.2 634.8 628.9 637.7 630.4C640.5 632.0 643.5 634.2 644.0 636.1C644.6 638.0 643.5 640.8 641.2 641.8C639.0 642.8 632.4 642.0 630.6 642.0M655.4 637.5C655.1 638.5 654.6 641.2 654.0 643.2C653.4 645.2 652.2 648.5 651.8 649.6M729.1 583.0C730.8 585.7 737.0 593.9 739.7 599.3C742.4 604.6 744.9 608.9 745.4 614.8C745.8 620.7 743.9 629.5 742.5 634.7C741.1 639.9 738.8 642.7 736.9 646.0C735.0 649.3 732.1 653.1 731.2 654.5"/>
<path stroke="#000085" stroke-width="4.0" stroke-opacity="0.35" d="M677.8 598.1C677.7 600.1 677.3 604.3 677.4 610.3C677.5 616.3 678.2 630.0 678.4 633.9M676.1 596.4C676.5 596.3 677.6 595.3 678.8 595.7C680.0 596.1 682.0 597.3 683.5 598.8C685.0 600.3 686.5 602.5 687.6 604.9C688.7 607.3 690.0 610.1 690.3 613.0C690.6 615.9 690.2 619.5 689.6 622.4C689.0 625.3 688.2 628.1 686.9 630.5C685.5 632.9 683.0 635.2 681.5 636.6C680.0 638.0 678.7 638.3 678.1 638.6M696.7 620.1C696.2 618.8 694.7 612.2 693.6 612.0C692.5 611.8 690.8 616.0 690.3 619.1C689.8 622.2 690.0 628.0 690.3 630.5C690.6 633.0 691.2 634.8 692.3 634.3C693.4 633.8 695.5 630.7 697.0 627.8C698.5 624.9 698.9 619.1 701.1 617.0C703.3 614.9 706.3 615.5 710.0 615.2C713.7 614.9 720.9 615.3 723.1 615.3M701.4 617.0C701.5 618.7 701.9 624.3 702.1 627.2C702.3 630.1 702.7 633.4 702.8 634.6M709.6 606.9C709.7 609.1 709.9 615.6 710.0 620.0C710.1 624.4 710.2 631.0 710.3 633.2M723.1 615.3C722.4 615.8 720.1 616.5 719.0 618.0C717.9 619.5 717.0 622.0 716.5 624.0C716.0 626.0 715.6 628.0 715.7 630.0C715.8 632.0 716.1 635.2 717.0 636.0C717.9 636.8 719.8 635.8 721.1 634.6C722.4 633.4 723.9 630.7 725.0 629.0C726.1 627.3 727.3 625.2 727.8 624.5M727.8 624.5C727.5 625.5 726.3 628.5 725.8 630.5C725.2 632.5 724.7 635.6 724.5 636.6"/>
<path stroke="#000085" stroke-width="2.5" d="M677.8 598.1C677.7 600.1 677.3 604.3 677.4 610.3C677.5 616.3 678.2 630.0 678.4 633.9M676.1 596.4C676.5 596.3 677.6 595.3 678.8 595.7C680.0 596.1 682.0 597.3 683.5 598.8C685.0 600.3 686.5 602.5 687.6 604.9C688.7 607.3 690.0 610.1 690.3 613.0C690.6 615.9 690.2 619.5 689.6 622.4C689.0 625.3 688.2 628.1 686.9 630.5C685.5 632.9 683.0 635.2 681.5 636.6C680.0 638.0 678.7 638.3 678.1 638.6M696.7 620.1C696.2 618.8 694.7 612.2 693.6 612.0C692.5 611.8 690.8 616.0 690.3 619.1C689.8 622.2 690.0 628.0 690.3 630.5C690.6 633.0 691.2 634.8 692.3 634.3C693.4 633.8 695.5 630.7 697.0 627.8C698.5 624.9 698.9 619.1 701.1 617.0C703.3 614.9 706.3 615.5 710.0 615.2C713.7 614.9 720.9 615.3 723.1 615.3M701.4 617.0C701.5 618.7 701.9 624.3 702.1 627.2C702.3 630.1 702.7 633.4 702.8 634.6M709.6 606.9C709.7 609.1 709.9 615.6 710.0 620.0C710.1 624.4 710.2 631.0 710.3 633.2M723.1 615.3C722.4 615.8 720.1 616.5 719.0 618.0C717.9 619.5 717.0 622.0 716.5 624.0C716.0 626.0 715.6 628.0 715.7 630.0C715.8 632.0 716.1 635.2 717.0 636.0C717.9 636.8 719.8 635.8 721.1 634.6C722.4 633.4 723.9 630.7 725.0 629.0C726.1 627.3 727.3 625.2 727.8 624.5M727.8 624.5C727.5 625.5 726.3 628.5 725.8 630.5C725.2 632.5 724.7 635.6 724.5 636.6"/>
<path stroke="#000085" stroke-width="4.0" stroke-opacity="0.35" d="M439.5 150.2C439.2 149.6 438.3 147.6 437.6 146.9C436.9 146.2 436.2 145.5 435.2 145.9C434.2 146.3 432.7 147.4 431.6 149.6C430.5 151.8 428.9 156.8 428.5 159.3C428.1 161.8 428.5 163.7 429.1 164.8C429.7 165.9 431.0 166.4 432.2 166.0C433.4 165.6 434.9 164.2 436.4 162.4C437.9 160.6 440.2 156.3 441.0 155.1M441.0 155.1C441.1 156.0 441.5 158.9 441.9 160.5C442.2 162.1 442.5 163.6 443.1 164.8C443.8 166.0 445.4 167.3 445.8 167.8M455.0 158.4C455.4 158.8 457.4 159.3 457.7 160.5C457.9 161.7 457.4 162.8 456.5 165.4C455.6 168.0 452.9 174.5 452.2 176.3"/>
<path stroke="#000085" stroke-width="2.5" d="M439.5 150.2C439.2 149.6 438.3 147.6 437.6 146.9C436.9 146.2 436.2 145.5 435.2 145.9C434.2 146.3 432.7 147.4 431.6 149.6C430.5 151.8 428.9 156.8 428.5 159.3C428.1 161.8 428.5 163.7 429.1 164.8C429.7 165.9 431.0 166.4 432.2 166.0C433.4 165.6 434.9 164.2 436.4 162.4C437.9 160.6 440.2 156.3 441.0 155.1M441.0 155.1C441.1 156.0 441.5 158.9 441.9 160.5C442.2 162.1 442.5 163.6 443.1 164.8C443.8 166.0 445.4 167.3 445.8 167.8M455.0 158.4C455.4 158.8 457.4 159.3 457.7 160.5C457.9 161.7 457.4 162.8 456.5 165.4C455.6 168.0 452.9 174.5 452.2 176.3"/>
<path stroke="#000000" stroke-width="4.0" stroke-opacity="0.35" d="M511.4 254.3L808.3 254.6M527.0 224.5C525.8 226.3 522.0 231.9 520.0 235.5C518.0 239.1 516.2 242.8 514.8 246.0C513.4 249.2 512.0 253.1 511.4 254.5M511.6 254.5C511.9 255.4 512.4 257.8 513.3 260.0C514.2 262.2 515.5 265.2 517.0 268.0C518.5 270.8 521.3 275.5 522.2 277.0M129.2 291.8L388.6 291.8M137.7 269.3C137.0 270.7 134.8 274.9 133.6 277.8C132.4 280.7 130.9 285.3 130.4 286.8M129.2 291.2C129.7 291.9 131.1 293.2 132.4 295.7C133.7 298.2 135.2 303.2 136.9 306.2C138.6 309.2 141.7 312.6 142.6 313.9M124.0 433.6L381.7 434.5M367.6 413.2C368.7 414.8 372.3 419.7 374.2 422.7C376.1 425.7 377.6 429.1 378.9 431.2C380.1 433.2 381.2 434.4 381.7 435.0M380.8 435.9C379.7 438.1 376.5 444.8 374.2 449.2C371.9 453.6 368.3 460.2 367.1 462.4M506.6 472.2L802.1 472.2M778.5 448.2C780.1 449.5 785.5 453.3 788.4 455.8C791.3 458.3 793.7 460.6 796.0 463.4C798.3 466.2 801.1 470.9 802.1 472.4M801.2 474.7C800.3 476.3 798.0 480.6 796.0 484.2C794.0 487.8 790.4 494.4 789.3 496.5M122.6 629.4L355.4 629.2M339.6 611.3C340.7 612.5 344.1 616.3 346.1 618.6C348.1 620.9 350.1 623.3 351.7 625.1C353.2 626.9 354.8 628.5 355.4 629.2M359.8 634.8C359.2 634.6 357.6 632.9 356.2 633.6C354.8 634.3 353.7 636.3 351.7 638.9C349.7 641.5 345.6 647.3 344.4 649.0M511.2 658.0L781.5 658.0M757.3 636.4C758.9 637.4 764.1 640.5 767.0 642.6C769.9 644.7 772.6 646.4 774.9 648.7C777.2 651.0 779.5 655.1 780.6 656.6C781.7 658.1 781.4 657.8 781.5 658.0M781.0 660.1C780.3 661.7 778.1 666.4 776.6 669.8C775.1 673.2 772.9 678.6 772.2 680.4"/>
<path stroke="#000000" stroke-width="2.5" d="M511.4 254.3L808.3 254.6M527.0 224.5C525.8 226.3 522.0 231.9 520.0 235.5C518.0 239.1 516.2 242.8 514.8 246.0C513.4 249.2 512.0 253.1 511.4 254.5M511.6 254.5C511.9 255.4 512.4 257.8 513.3 260.0C514.2 262.2 515.5 265.2 517.0 268.0C518.5 270.8 521.3 275.5 522.2 277.0M129.2 291.8L388.6 291.8M137.7 269.3C137.0 270.7 134.8 274.9 133.6 277.8C132.4 280.7 130.9 285.3 130.4 286.8M129.2 291.2C129.7 291.9 131.1 293.2 132.4 295.7C133.7 298.2 135.2 303.2 136.9 306.2C138.6 309.2 141.7 312.6 142.6 313.9M124.0 433.6L381.7 434.5M367.6 413.2C368.7 414.8 372.3 419.7 374.2 422.7C376.1 425.7 377.6 429.1 378.9 431.2C380.1 433.2 381.2 434.4 381.7 435.0M380.8 435.9C379.7 438.1 376.5 444.8 374.2 449.2C371.9 453.6 368.3 460.2 367.1 462.4M506.6 472.2L802.1 472.2M778.5 448.2C780.1 449.5 785.5 453.3 788.4 455.8C791.3 458.3 793.7 460.6 796.0 463.4C798.3 466.2 801.1 470.9 802.1 472.4M801.2 474.7C800.3 476.3 798.0 480.6 796.0 484.2C794.0 487.8 790.4 494.4 789.3 496.5M122.6 629.4L355.4 629.2M339.6 611.3C340.7 612.5 344.1 616.3 346.1 618.6C348.1 620.9 350.1 623.3 351.7 625.1C353.2 626.9 354.8 628.5 355.4 629.2M359.8 634.8C359.2 634.6 357.6 632.9 356.2 633.6C354.8 634.3 353.7 636.3 351.7 638.9C349.7 641.5 345.6 647.3 344.4 649.0M511.2 658.0L781.5 658.0M757.3 636.4C758.9 637.4 764.1 640.5 767.0 642.6C769.9 644.7 772.6 646.4 774.9 648.7C777.2 651.0 779.5 655.1 780.6 656.6C781.7 658.1 781.4 657.8 781.5 658.0M781.0 660.1C780.3 661.7 778.1 666.4 776.6 669.8C775.1 673.2 772.9 678.6 772.2 680.4"/>
</g></svg></body></html>
